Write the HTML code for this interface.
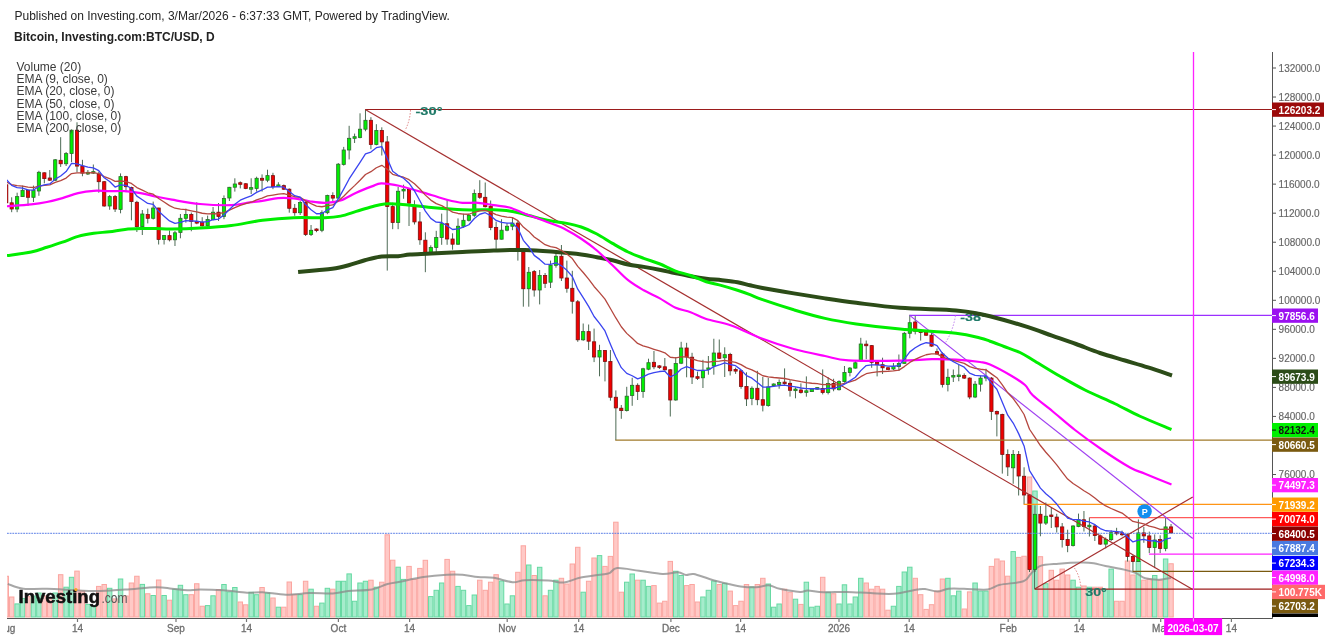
<!DOCTYPE html>
<html><head><meta charset="utf-8"><style>
html,body{margin:0;padding:0;background:#fff;}
svg{display:block;font-family:"Liberation Sans",sans-serif;will-change:transform;}
</style></head><body>
<svg width="1332" height="640" viewBox="0 0 1332 640">
<defs><clipPath id="cpx"><rect x="7" y="600" width="100" height="40"/></clipPath><clipPath id="cp"><rect x="7" y="52" width="1265" height="566"/></clipPath></defs>
<rect width="1332" height="640" fill="#fff"/>

<text x="14.5" y="20" font-size="12" fill="#262626">Published on Investing.com, 3/Mar/2026 - 6:37:33 GMT, Powered by TradingView.</text>
<text x="14" y="41" font-size="12" font-weight="bold" fill="#222">Bitcoin, Investing.com:BTC/USD, D</text>
<g clip-path="url(#cp)">
<rect x="4.02" y="576.25" width="4.44" height="40.75" fill="#ffc9c6" stroke="#fba5a0" stroke-width="1"/><rect x="9.46" y="597" width="4.44" height="20" fill="#ffc9c6" stroke="#fba5a0" stroke-width="1"/><rect x="14.91" y="603.9" width="4.44" height="13.1" fill="#a6eccc" stroke="#66d9a2" stroke-width="1"/><rect x="20.35" y="598.5" width="4.44" height="18.5" fill="#a6eccc" stroke="#66d9a2" stroke-width="1"/><rect x="25.79" y="596.6" width="4.44" height="20.4" fill="#ffc9c6" stroke="#fba5a0" stroke-width="1"/><rect x="31.24" y="596" width="4.44" height="21" fill="#a6eccc" stroke="#66d9a2" stroke-width="1"/><rect x="36.68" y="593" width="4.44" height="24" fill="#a6eccc" stroke="#66d9a2" stroke-width="1"/><rect x="42.12" y="596" width="4.44" height="21" fill="#ffc9c6" stroke="#fba5a0" stroke-width="1"/><rect x="47.57" y="598" width="4.44" height="19" fill="#ffc9c6" stroke="#fba5a0" stroke-width="1"/><rect x="53.01" y="593" width="4.44" height="24" fill="#a6eccc" stroke="#66d9a2" stroke-width="1"/><rect x="58.45" y="574.7" width="4.44" height="42.3" fill="#ffc9c6" stroke="#fba5a0" stroke-width="1"/><rect x="63.89" y="587.2" width="4.44" height="29.8" fill="#a6eccc" stroke="#66d9a2" stroke-width="1"/><rect x="69.34" y="577.3" width="4.44" height="39.7" fill="#a6eccc" stroke="#66d9a2" stroke-width="1"/><rect x="74.78" y="571.1" width="4.44" height="45.9" fill="#ffc9c6" stroke="#fba5a0" stroke-width="1"/><rect x="80.22" y="591" width="4.44" height="26" fill="#ffc9c6" stroke="#fba5a0" stroke-width="1"/><rect x="85.67" y="604.4" width="4.44" height="12.6" fill="#a6eccc" stroke="#66d9a2" stroke-width="1"/><rect x="91.11" y="606" width="4.44" height="11" fill="#a6eccc" stroke="#66d9a2" stroke-width="1"/><rect x="96.55" y="586.4" width="4.44" height="30.6" fill="#ffc9c6" stroke="#fba5a0" stroke-width="1"/><rect x="102" y="584.5" width="4.44" height="32.5" fill="#ffc9c6" stroke="#fba5a0" stroke-width="1"/><rect x="107.44" y="588.3" width="4.44" height="28.7" fill="#a6eccc" stroke="#66d9a2" stroke-width="1"/><rect x="112.88" y="598.9" width="4.44" height="18.1" fill="#ffc9c6" stroke="#fba5a0" stroke-width="1"/><rect x="118.32" y="579" width="4.44" height="38" fill="#a6eccc" stroke="#66d9a2" stroke-width="1"/><rect x="123.77" y="596" width="4.44" height="21" fill="#ffc9c6" stroke="#fba5a0" stroke-width="1"/><rect x="129.21" y="583" width="4.44" height="34" fill="#ffc9c6" stroke="#fba5a0" stroke-width="1"/><rect x="134.65" y="576.25" width="4.44" height="40.75" fill="#ffc9c6" stroke="#fba5a0" stroke-width="1"/><rect x="140.1" y="584.4" width="4.44" height="32.6" fill="#a6eccc" stroke="#66d9a2" stroke-width="1"/><rect x="145.54" y="593.75" width="4.44" height="23.25" fill="#ffc9c6" stroke="#fba5a0" stroke-width="1"/><rect x="150.98" y="595.5" width="4.44" height="21.5" fill="#a6eccc" stroke="#66d9a2" stroke-width="1"/><rect x="156.42" y="580" width="4.44" height="37" fill="#ffc9c6" stroke="#fba5a0" stroke-width="1"/><rect x="161.87" y="595.5" width="4.44" height="21.5" fill="#a6eccc" stroke="#66d9a2" stroke-width="1"/><rect x="167.31" y="600.2" width="4.44" height="16.8" fill="#ffc9c6" stroke="#fba5a0" stroke-width="1"/><rect x="172.75" y="589.2" width="4.44" height="27.8" fill="#a6eccc" stroke="#66d9a2" stroke-width="1"/><rect x="178.2" y="585.3" width="4.44" height="31.7" fill="#a6eccc" stroke="#66d9a2" stroke-width="1"/><rect x="183.64" y="594.7" width="4.44" height="22.3" fill="#a6eccc" stroke="#66d9a2" stroke-width="1"/><rect x="189.08" y="594.7" width="4.44" height="22.3" fill="#ffc9c6" stroke="#fba5a0" stroke-width="1"/><rect x="194.53" y="583.75" width="4.44" height="33.25" fill="#ffc9c6" stroke="#fba5a0" stroke-width="1"/><rect x="199.97" y="606.25" width="4.44" height="10.75" fill="#ffc9c6" stroke="#fba5a0" stroke-width="1"/><rect x="205.41" y="605.6" width="4.44" height="11.4" fill="#a6eccc" stroke="#66d9a2" stroke-width="1"/><rect x="210.85" y="595.8" width="4.44" height="21.2" fill="#a6eccc" stroke="#66d9a2" stroke-width="1"/><rect x="216.3" y="589.5" width="4.44" height="27.5" fill="#ffc9c6" stroke="#fba5a0" stroke-width="1"/><rect x="221.74" y="584.5" width="4.44" height="32.5" fill="#a6eccc" stroke="#66d9a2" stroke-width="1"/><rect x="227.18" y="591.9" width="4.44" height="25.1" fill="#a6eccc" stroke="#66d9a2" stroke-width="1"/><rect x="232.63" y="587.5" width="4.44" height="29.5" fill="#a6eccc" stroke="#66d9a2" stroke-width="1"/><rect x="238.07" y="602" width="4.44" height="15" fill="#ffc9c6" stroke="#fba5a0" stroke-width="1"/><rect x="243.51" y="604.8" width="4.44" height="12.2" fill="#ffc9c6" stroke="#fba5a0" stroke-width="1"/><rect x="248.96" y="592.3" width="4.44" height="24.7" fill="#a6eccc" stroke="#66d9a2" stroke-width="1"/><rect x="254.4" y="594.7" width="4.44" height="22.3" fill="#a6eccc" stroke="#66d9a2" stroke-width="1"/><rect x="259.84" y="587.5" width="4.44" height="29.5" fill="#ffc9c6" stroke="#fba5a0" stroke-width="1"/><rect x="265.28" y="593" width="4.44" height="24" fill="#a6eccc" stroke="#66d9a2" stroke-width="1"/><rect x="270.73" y="598" width="4.44" height="19" fill="#ffc9c6" stroke="#fba5a0" stroke-width="1"/><rect x="276.17" y="607.2" width="4.44" height="9.8" fill="#a6eccc" stroke="#66d9a2" stroke-width="1"/><rect x="281.61" y="607.2" width="4.44" height="9.8" fill="#ffc9c6" stroke="#fba5a0" stroke-width="1"/><rect x="287.06" y="582" width="4.44" height="35" fill="#ffc9c6" stroke="#fba5a0" stroke-width="1"/><rect x="292.5" y="594.7" width="4.44" height="22.3" fill="#ffc9c6" stroke="#fba5a0" stroke-width="1"/><rect x="297.94" y="594.7" width="4.44" height="22.3" fill="#a6eccc" stroke="#66d9a2" stroke-width="1"/><rect x="303.39" y="581.25" width="4.44" height="35.75" fill="#ffc9c6" stroke="#fba5a0" stroke-width="1"/><rect x="308.83" y="589.2" width="4.44" height="27.8" fill="#a6eccc" stroke="#66d9a2" stroke-width="1"/><rect x="314.27" y="606.25" width="4.44" height="10.75" fill="#ffc9c6" stroke="#fba5a0" stroke-width="1"/><rect x="319.71" y="603.1" width="4.44" height="13.9" fill="#a6eccc" stroke="#66d9a2" stroke-width="1"/><rect x="325.16" y="588.3" width="4.44" height="28.7" fill="#a6eccc" stroke="#66d9a2" stroke-width="1"/><rect x="330.6" y="589.2" width="4.44" height="27.8" fill="#ffc9c6" stroke="#fba5a0" stroke-width="1"/><rect x="336.04" y="581.25" width="4.44" height="35.75" fill="#a6eccc" stroke="#66d9a2" stroke-width="1"/><rect x="341.49" y="581.25" width="4.44" height="35.75" fill="#a6eccc" stroke="#66d9a2" stroke-width="1"/><rect x="346.93" y="573.9" width="4.44" height="43.1" fill="#a6eccc" stroke="#66d9a2" stroke-width="1"/><rect x="352.37" y="601.25" width="4.44" height="15.75" fill="#a6eccc" stroke="#66d9a2" stroke-width="1"/><rect x="357.82" y="583" width="4.44" height="34" fill="#a6eccc" stroke="#66d9a2" stroke-width="1"/><rect x="363.26" y="581.25" width="4.44" height="35.75" fill="#a6eccc" stroke="#66d9a2" stroke-width="1"/><rect x="368.7" y="580.2" width="4.44" height="36.8" fill="#ffc9c6" stroke="#fba5a0" stroke-width="1"/><rect x="374.14" y="587.2" width="4.44" height="29.8" fill="#a6eccc" stroke="#66d9a2" stroke-width="1"/><rect x="379.59" y="582.2" width="4.44" height="34.8" fill="#ffc9c6" stroke="#fba5a0" stroke-width="1"/><rect x="385.03" y="534.8" width="4.44" height="82.2" fill="#ffc9c6" stroke="#fba5a0" stroke-width="1"/><rect x="390.47" y="560.2" width="4.44" height="56.8" fill="#ffc9c6" stroke="#fba5a0" stroke-width="1"/><rect x="395.92" y="567.2" width="4.44" height="49.8" fill="#a6eccc" stroke="#66d9a2" stroke-width="1"/><rect x="401.36" y="579.4" width="4.44" height="37.6" fill="#a6eccc" stroke="#66d9a2" stroke-width="1"/><rect x="406.8" y="566.4" width="4.44" height="50.6" fill="#ffc9c6" stroke="#fba5a0" stroke-width="1"/><rect x="412.25" y="579.4" width="4.44" height="37.6" fill="#ffc9c6" stroke="#fba5a0" stroke-width="1"/><rect x="417.69" y="568.4" width="4.44" height="48.6" fill="#ffc9c6" stroke="#fba5a0" stroke-width="1"/><rect x="423.13" y="560.3" width="4.44" height="56.7" fill="#ffc9c6" stroke="#fba5a0" stroke-width="1"/><rect x="428.57" y="596.6" width="4.44" height="20.4" fill="#a6eccc" stroke="#66d9a2" stroke-width="1"/><rect x="434.02" y="590.3" width="4.44" height="26.7" fill="#a6eccc" stroke="#66d9a2" stroke-width="1"/><rect x="439.46" y="583" width="4.44" height="34" fill="#a6eccc" stroke="#66d9a2" stroke-width="1"/><rect x="444.9" y="559.4" width="4.44" height="57.6" fill="#ffc9c6" stroke="#fba5a0" stroke-width="1"/><rect x="450.35" y="571.25" width="4.44" height="45.75" fill="#ffc9c6" stroke="#fba5a0" stroke-width="1"/><rect x="455.79" y="586.4" width="4.44" height="30.6" fill="#a6eccc" stroke="#66d9a2" stroke-width="1"/><rect x="461.23" y="590.3" width="4.44" height="26.7" fill="#a6eccc" stroke="#66d9a2" stroke-width="1"/><rect x="466.68" y="605.6" width="4.44" height="11.4" fill="#a6eccc" stroke="#66d9a2" stroke-width="1"/><rect x="472.12" y="595" width="4.44" height="22" fill="#a6eccc" stroke="#66d9a2" stroke-width="1"/><rect x="477.56" y="580.2" width="4.44" height="36.8" fill="#ffc9c6" stroke="#fba5a0" stroke-width="1"/><rect x="483" y="590.3" width="4.44" height="26.7" fill="#ffc9c6" stroke="#fba5a0" stroke-width="1"/><rect x="488.45" y="582.2" width="4.44" height="34.8" fill="#ffc9c6" stroke="#fba5a0" stroke-width="1"/><rect x="493.89" y="574.7" width="4.44" height="42.3" fill="#ffc9c6" stroke="#fba5a0" stroke-width="1"/><rect x="499.33" y="581" width="4.44" height="36" fill="#a6eccc" stroke="#66d9a2" stroke-width="1"/><rect x="504.78" y="604" width="4.44" height="13" fill="#a6eccc" stroke="#66d9a2" stroke-width="1"/><rect x="510.22" y="595.8" width="4.44" height="21.2" fill="#a6eccc" stroke="#66d9a2" stroke-width="1"/><rect x="515.66" y="572.3" width="4.44" height="44.7" fill="#ffc9c6" stroke="#fba5a0" stroke-width="1"/><rect x="521.11" y="545.8" width="4.44" height="71.2" fill="#ffc9c6" stroke="#fba5a0" stroke-width="1"/><rect x="526.55" y="565" width="4.44" height="52" fill="#a6eccc" stroke="#66d9a2" stroke-width="1"/><rect x="531.99" y="575.5" width="4.44" height="41.5" fill="#ffc9c6" stroke="#fba5a0" stroke-width="1"/><rect x="537.43" y="567.3" width="4.44" height="49.7" fill="#a6eccc" stroke="#66d9a2" stroke-width="1"/><rect x="542.88" y="595.8" width="4.44" height="21.2" fill="#ffc9c6" stroke="#fba5a0" stroke-width="1"/><rect x="548.32" y="590.3" width="4.44" height="26.7" fill="#a6eccc" stroke="#66d9a2" stroke-width="1"/><rect x="553.76" y="580.2" width="4.44" height="36.8" fill="#a6eccc" stroke="#66d9a2" stroke-width="1"/><rect x="559.21" y="578.3" width="4.44" height="38.7" fill="#ffc9c6" stroke="#fba5a0" stroke-width="1"/><rect x="564.65" y="584" width="4.44" height="33" fill="#ffc9c6" stroke="#fba5a0" stroke-width="1"/><rect x="570.09" y="564" width="4.44" height="53" fill="#ffc9c6" stroke="#fba5a0" stroke-width="1"/><rect x="575.54" y="547.3" width="4.44" height="69.7" fill="#ffc9c6" stroke="#fba5a0" stroke-width="1"/><rect x="580.98" y="592.2" width="4.44" height="24.8" fill="#a6eccc" stroke="#66d9a2" stroke-width="1"/><rect x="586.42" y="581.25" width="4.44" height="35.75" fill="#ffc9c6" stroke="#fba5a0" stroke-width="1"/><rect x="591.86" y="558" width="4.44" height="59" fill="#ffc9c6" stroke="#fba5a0" stroke-width="1"/><rect x="597.31" y="555.6" width="4.44" height="61.4" fill="#a6eccc" stroke="#66d9a2" stroke-width="1"/><rect x="602.75" y="566.4" width="4.44" height="50.6" fill="#ffc9c6" stroke="#fba5a0" stroke-width="1"/><rect x="608.19" y="556.4" width="4.44" height="60.6" fill="#ffc9c6" stroke="#fba5a0" stroke-width="1"/><rect x="613.64" y="522.2" width="4.44" height="94.8" fill="#ffc9c6" stroke="#fba5a0" stroke-width="1"/><rect x="619.08" y="592.2" width="4.44" height="24.8" fill="#ffc9c6" stroke="#fba5a0" stroke-width="1"/><rect x="624.52" y="582.2" width="4.44" height="34.8" fill="#a6eccc" stroke="#66d9a2" stroke-width="1"/><rect x="629.97" y="574" width="4.44" height="43" fill="#a6eccc" stroke="#66d9a2" stroke-width="1"/><rect x="635.41" y="580.2" width="4.44" height="36.8" fill="#ffc9c6" stroke="#fba5a0" stroke-width="1"/><rect x="640.85" y="580.2" width="4.44" height="36.8" fill="#a6eccc" stroke="#66d9a2" stroke-width="1"/><rect x="646.29" y="586.4" width="4.44" height="30.6" fill="#a6eccc" stroke="#66d9a2" stroke-width="1"/><rect x="651.74" y="585.6" width="4.44" height="31.4" fill="#ffc9c6" stroke="#fba5a0" stroke-width="1"/><rect x="657.18" y="603.1" width="4.44" height="13.9" fill="#ffc9c6" stroke="#fba5a0" stroke-width="1"/><rect x="662.62" y="601.25" width="4.44" height="15.75" fill="#ffc9c6" stroke="#fba5a0" stroke-width="1"/><rect x="668.07" y="561.4" width="4.44" height="55.6" fill="#ffc9c6" stroke="#fba5a0" stroke-width="1"/><rect x="673.51" y="571.25" width="4.44" height="45.75" fill="#a6eccc" stroke="#66d9a2" stroke-width="1"/><rect x="678.95" y="575.5" width="4.44" height="41.5" fill="#a6eccc" stroke="#66d9a2" stroke-width="1"/><rect x="684.4" y="585.6" width="4.44" height="31.4" fill="#ffc9c6" stroke="#fba5a0" stroke-width="1"/><rect x="689.84" y="584.5" width="4.44" height="32.5" fill="#ffc9c6" stroke="#fba5a0" stroke-width="1"/><rect x="695.28" y="602" width="4.44" height="15" fill="#ffc9c6" stroke="#fba5a0" stroke-width="1"/><rect x="700.72" y="597" width="4.44" height="20" fill="#a6eccc" stroke="#66d9a2" stroke-width="1"/><rect x="706.17" y="590.3" width="4.44" height="26.7" fill="#a6eccc" stroke="#66d9a2" stroke-width="1"/><rect x="711.61" y="581" width="4.44" height="36" fill="#a6eccc" stroke="#66d9a2" stroke-width="1"/><rect x="717.05" y="584.5" width="4.44" height="32.5" fill="#ffc9c6" stroke="#fba5a0" stroke-width="1"/><rect x="722.5" y="583.3" width="4.44" height="33.7" fill="#a6eccc" stroke="#66d9a2" stroke-width="1"/><rect x="727.94" y="591.1" width="4.44" height="25.9" fill="#ffc9c6" stroke="#fba5a0" stroke-width="1"/><rect x="733.38" y="605.6" width="4.44" height="11.4" fill="#ffc9c6" stroke="#fba5a0" stroke-width="1"/><rect x="738.83" y="601.25" width="4.44" height="15.75" fill="#ffc9c6" stroke="#fba5a0" stroke-width="1"/><rect x="744.27" y="584.5" width="4.44" height="32.5" fill="#ffc9c6" stroke="#fba5a0" stroke-width="1"/><rect x="749.71" y="586.9" width="4.44" height="30.1" fill="#a6eccc" stroke="#66d9a2" stroke-width="1"/><rect x="755.15" y="584.5" width="4.44" height="32.5" fill="#ffc9c6" stroke="#fba5a0" stroke-width="1"/><rect x="760.6" y="578.3" width="4.44" height="38.7" fill="#ffc9c6" stroke="#fba5a0" stroke-width="1"/><rect x="766.04" y="584" width="4.44" height="33" fill="#a6eccc" stroke="#66d9a2" stroke-width="1"/><rect x="771.48" y="607.2" width="4.44" height="9.8" fill="#a6eccc" stroke="#66d9a2" stroke-width="1"/><rect x="776.93" y="604" width="4.44" height="13" fill="#a6eccc" stroke="#66d9a2" stroke-width="1"/><rect x="782.37" y="589.2" width="4.44" height="27.8" fill="#ffc9c6" stroke="#fba5a0" stroke-width="1"/><rect x="787.81" y="592.2" width="4.44" height="24.8" fill="#ffc9c6" stroke="#fba5a0" stroke-width="1"/><rect x="793.26" y="599.2" width="4.44" height="17.8" fill="#a6eccc" stroke="#66d9a2" stroke-width="1"/><rect x="798.7" y="604.4" width="4.44" height="12.6" fill="#ffc9c6" stroke="#fba5a0" stroke-width="1"/><rect x="804.14" y="582.2" width="4.44" height="34.8" fill="#a6eccc" stroke="#66d9a2" stroke-width="1"/><rect x="809.58" y="607.2" width="4.44" height="9.8" fill="#a6eccc" stroke="#66d9a2" stroke-width="1"/><rect x="815.03" y="606.25" width="4.44" height="10.75" fill="#a6eccc" stroke="#66d9a2" stroke-width="1"/><rect x="820.47" y="577.3" width="4.44" height="39.7" fill="#ffc9c6" stroke="#fba5a0" stroke-width="1"/><rect x="825.91" y="592.2" width="4.44" height="24.8" fill="#a6eccc" stroke="#66d9a2" stroke-width="1"/><rect x="831.36" y="593.75" width="4.44" height="23.25" fill="#ffc9c6" stroke="#fba5a0" stroke-width="1"/><rect x="836.8" y="604" width="4.44" height="13" fill="#a6eccc" stroke="#66d9a2" stroke-width="1"/><rect x="842.24" y="584.8" width="4.44" height="32.2" fill="#a6eccc" stroke="#66d9a2" stroke-width="1"/><rect x="847.69" y="604" width="4.44" height="13" fill="#a6eccc" stroke="#66d9a2" stroke-width="1"/><rect x="853.13" y="597" width="4.44" height="20" fill="#a6eccc" stroke="#66d9a2" stroke-width="1"/><rect x="858.57" y="578.3" width="4.44" height="38.7" fill="#a6eccc" stroke="#66d9a2" stroke-width="1"/><rect x="864.01" y="583" width="4.44" height="34" fill="#ffc9c6" stroke="#fba5a0" stroke-width="1"/><rect x="869.46" y="589.2" width="4.44" height="27.8" fill="#ffc9c6" stroke="#fba5a0" stroke-width="1"/><rect x="874.9" y="586.4" width="4.44" height="30.6" fill="#ffc9c6" stroke="#fba5a0" stroke-width="1"/><rect x="880.34" y="589.2" width="4.44" height="27.8" fill="#ffc9c6" stroke="#fba5a0" stroke-width="1"/><rect x="885.79" y="610.2" width="4.44" height="6.8" fill="#ffc9c6" stroke="#fba5a0" stroke-width="1"/><rect x="891.23" y="606.25" width="4.44" height="10.75" fill="#a6eccc" stroke="#66d9a2" stroke-width="1"/><rect x="896.67" y="586.4" width="4.44" height="30.6" fill="#a6eccc" stroke="#66d9a2" stroke-width="1"/><rect x="902.12" y="572" width="4.44" height="45" fill="#a6eccc" stroke="#66d9a2" stroke-width="1"/><rect x="907.56" y="567.2" width="4.44" height="49.8" fill="#a6eccc" stroke="#66d9a2" stroke-width="1"/><rect x="913" y="578.3" width="4.44" height="38.7" fill="#ffc9c6" stroke="#fba5a0" stroke-width="1"/><rect x="918.44" y="594.7" width="4.44" height="22.3" fill="#ffc9c6" stroke="#fba5a0" stroke-width="1"/><rect x="923.89" y="609.4" width="4.44" height="7.6" fill="#ffc9c6" stroke="#fba5a0" stroke-width="1"/><rect x="929.33" y="604.7" width="4.44" height="12.3" fill="#ffc9c6" stroke="#fba5a0" stroke-width="1"/><rect x="934.77" y="591.1" width="4.44" height="25.9" fill="#ffc9c6" stroke="#fba5a0" stroke-width="1"/><rect x="940.22" y="579" width="4.44" height="38" fill="#ffc9c6" stroke="#fba5a0" stroke-width="1"/><rect x="945.66" y="578.3" width="4.44" height="38.7" fill="#a6eccc" stroke="#66d9a2" stroke-width="1"/><rect x="951.1" y="595.8" width="4.44" height="21.2" fill="#a6eccc" stroke="#66d9a2" stroke-width="1"/><rect x="956.55" y="591.1" width="4.44" height="25.9" fill="#a6eccc" stroke="#66d9a2" stroke-width="1"/><rect x="961.99" y="609" width="4.44" height="8" fill="#ffc9c6" stroke="#fba5a0" stroke-width="1"/><rect x="967.43" y="591.9" width="4.44" height="25.1" fill="#ffc9c6" stroke="#fba5a0" stroke-width="1"/><rect x="972.87" y="583" width="4.44" height="34" fill="#a6eccc" stroke="#66d9a2" stroke-width="1"/><rect x="978.32" y="591.1" width="4.44" height="25.9" fill="#a6eccc" stroke="#66d9a2" stroke-width="1"/><rect x="983.76" y="591.1" width="4.44" height="25.9" fill="#a6eccc" stroke="#66d9a2" stroke-width="1"/><rect x="989.2" y="566.4" width="4.44" height="50.6" fill="#ffc9c6" stroke="#fba5a0" stroke-width="1"/><rect x="994.65" y="559" width="4.44" height="58" fill="#ffc9c6" stroke="#fba5a0" stroke-width="1"/><rect x="1000.09" y="561" width="4.44" height="56" fill="#ffc9c6" stroke="#fba5a0" stroke-width="1"/><rect x="1005.53" y="576.2" width="4.44" height="40.8" fill="#ffc9c6" stroke="#fba5a0" stroke-width="1"/><rect x="1010.98" y="551.6" width="4.44" height="65.4" fill="#a6eccc" stroke="#66d9a2" stroke-width="1"/><rect x="1016.42" y="557.4" width="4.44" height="59.6" fill="#ffc9c6" stroke="#fba5a0" stroke-width="1"/><rect x="1021.86" y="556.25" width="4.44" height="60.75" fill="#ffc9c6" stroke="#fba5a0" stroke-width="1"/><rect x="1027.31" y="477" width="4.44" height="140" fill="#ffc9c6" stroke="#fba5a0" stroke-width="1"/><rect x="1032.75" y="491" width="4.44" height="126" fill="#a6eccc" stroke="#66d9a2" stroke-width="1"/><rect x="1038.19" y="556.7" width="4.44" height="60.3" fill="#ffc9c6" stroke="#fba5a0" stroke-width="1"/><rect x="1043.63" y="583.7" width="4.44" height="33.3" fill="#a6eccc" stroke="#66d9a2" stroke-width="1"/><rect x="1049.08" y="570.3" width="4.44" height="46.7" fill="#ffc9c6" stroke="#fba5a0" stroke-width="1"/><rect x="1054.52" y="580.2" width="4.44" height="36.8" fill="#ffc9c6" stroke="#fba5a0" stroke-width="1"/><rect x="1059.96" y="569.1" width="4.44" height="47.9" fill="#ffc9c6" stroke="#fba5a0" stroke-width="1"/><rect x="1065.41" y="575" width="4.44" height="42" fill="#ffc9c6" stroke="#fba5a0" stroke-width="1"/><rect x="1070.85" y="580.2" width="4.44" height="36.8" fill="#a6eccc" stroke="#66d9a2" stroke-width="1"/><rect x="1076.29" y="587.2" width="4.44" height="29.8" fill="#a6eccc" stroke="#66d9a2" stroke-width="1"/><rect x="1081.73" y="586" width="4.44" height="31" fill="#ffc9c6" stroke="#fba5a0" stroke-width="1"/><rect x="1087.18" y="587.2" width="4.44" height="29.8" fill="#a6eccc" stroke="#66d9a2" stroke-width="1"/><rect x="1092.62" y="587.2" width="4.44" height="29.8" fill="#ffc9c6" stroke="#fba5a0" stroke-width="1"/><rect x="1098.06" y="587.2" width="4.44" height="29.8" fill="#ffc9c6" stroke="#fba5a0" stroke-width="1"/><rect x="1103.51" y="589.5" width="4.44" height="27.5" fill="#a6eccc" stroke="#66d9a2" stroke-width="1"/><rect x="1108.95" y="569.1" width="4.44" height="47.9" fill="#a6eccc" stroke="#66d9a2" stroke-width="1"/><rect x="1114.39" y="601.25" width="4.44" height="15.75" fill="#ffc9c6" stroke="#fba5a0" stroke-width="1"/><rect x="1119.84" y="601.25" width="4.44" height="15.75" fill="#ffc9c6" stroke="#fba5a0" stroke-width="1"/><rect x="1125.28" y="561" width="4.44" height="56" fill="#ffc9c6" stroke="#fba5a0" stroke-width="1"/><rect x="1130.72" y="575" width="4.44" height="42" fill="#ffc9c6" stroke="#fba5a0" stroke-width="1"/><rect x="1136.16" y="561.4" width="4.44" height="55.6" fill="#a6eccc" stroke="#66d9a2" stroke-width="1"/><rect x="1141.61" y="580.2" width="4.44" height="36.8" fill="#ffc9c6" stroke="#fba5a0" stroke-width="1"/><rect x="1147.05" y="579" width="4.44" height="38" fill="#ffc9c6" stroke="#fba5a0" stroke-width="1"/><rect x="1152.49" y="575.5" width="4.44" height="41.5" fill="#a6eccc" stroke="#66d9a2" stroke-width="1"/><rect x="1157.94" y="580.2" width="4.44" height="36.8" fill="#ffc9c6" stroke="#fba5a0" stroke-width="1"/><rect x="1163.38" y="559" width="4.44" height="58" fill="#a6eccc" stroke="#66d9a2" stroke-width="1"/><rect x="1168.82" y="563.75" width="4.44" height="53.25" fill="#ffc9c6" stroke="#fba5a0" stroke-width="1"/>
<path d="M7.8,584 C10.4,584.79 16.87,587.96 23.4,588.75 C29.93,589.54 35.27,588.38 47,588.75 C58.73,589.12 80.75,590.88 93.75,591 C106.75,591.12 114.62,590.13 125,589.5 C135.38,588.87 148.17,587.33 156,587.2 C163.83,587.08 166.75,588.23 172,588.75 C177.25,589.27 182.83,590.17 187.5,590.3 C192.17,590.42 194.02,589.5 200,589.5 C205.98,589.5 215.57,589.77 223.4,590.3 C231.23,590.83 240.48,592.38 247,592.7 C253.52,593.02 256,591.87 262.5,592.2 C269,592.53 278.18,594.55 286,594.7 C293.82,594.85 301.6,593.32 309.4,593.1 C317.2,592.88 326.3,593.73 332.8,593.4 C339.3,593.07 341.88,591.75 348.4,591.1 C354.92,590.45 365.38,590.68 371.9,589.5 C378.42,588.32 382.82,585.3 387.5,584 C392.18,582.7 394.02,582.87 400,581.7 C405.98,580.53 415.58,578.17 423.4,577 C431.22,575.83 440.38,575.08 446.9,574.7 C453.42,574.32 457.32,574.32 462.5,574.7 C467.68,575.08 472.79,576.48 478,577 C483.21,577.52 488,576.93 493.75,577.8 C499.5,578.67 507.29,581.8 512.5,582.2 C517.71,582.6 519.02,580.47 525,580.2 C530.98,579.93 541.9,580.22 548.4,580.6 C554.9,580.98 558.78,582.97 564,582.5 C569.22,582.03 573.7,579.1 579.7,577.8 C585.7,576.5 595.05,575.48 600,574.7 C604.95,573.92 606.53,574.2 609.4,573.1 C612.27,572 612.27,568.48 617.2,568.1 C622.13,567.72 631.45,569.82 639,570.8 C646.55,571.78 656,573.75 662.5,574 C669,574.25 674.08,572.13 678,572.3 C681.92,572.47 683.38,574.72 686,575 C688.62,575.28 689.85,573.33 693.75,574 C697.65,574.67 704.19,577.45 709.4,579 C714.61,580.55 719.8,582.07 725,583.3 C730.2,584.53 735.39,585.75 740.6,586.4 C745.81,587.05 751.56,587.38 756.25,587.2 C760.94,587.02 764.84,585.04 768.75,585.3 C772.66,585.56 774.49,587.65 779.7,588.75 C784.91,589.85 795.32,591.59 800,591.9 C804.68,592.21 803.9,590.55 807.8,590.6 C811.7,590.65 816.87,591.98 823.4,592.2 C829.93,592.42 839.18,591.75 847,591.9 C854.82,592.05 862.51,592.79 870.3,593.1 C878.09,593.41 885.93,594.35 893.75,593.75 C901.57,593.15 911.99,590.29 917.2,589.5 C922.41,588.71 921.62,588.65 925,589 C928.38,589.35 933.6,591.64 937.5,591.6 C941.4,591.56 943.98,589.23 948.4,588.75 C952.82,588.27 957.48,588.62 964,588.75 C970.52,588.88 981.5,590.16 987.5,589.5 C993.5,588.84 994.02,586.17 1000,584.8 C1005.98,583.43 1018.32,583.05 1023.4,581.3 C1028.48,579.55 1027.77,576.83 1030.5,574.3 C1033.23,571.77 1035.12,567.86 1039.8,566.1 C1044.48,564.34 1051.57,564.33 1058.6,563.75 C1065.63,563.17 1076.14,562.68 1082,562.6 C1087.86,562.52 1089.83,562.72 1093.75,563.3 C1097.67,563.88 1100.42,565.05 1105.5,566.1 C1110.58,567.15 1119.12,568.43 1124.2,569.6 C1129.28,570.77 1132.48,571.65 1136,573.1 C1139.52,574.55 1141.4,577.2 1145.3,578.3 C1149.2,579.4 1155.12,579.78 1159.4,579.7 C1163.68,579.62 1169.07,578.12 1171,577.8" fill="none" stroke="#8a8a8a" stroke-width="2" stroke-opacity="0.75"/>
<text x="18.5" y="603" font-size="18" font-weight="bold" fill="#111" stroke="#111" stroke-width="0.5" textLength="81.5" lengthAdjust="spacingAndGlyphs">Investing</text>
<circle cx="75.9" cy="589.6" r="1.6" fill="#f5a623"/><text x="101.5" y="603.4" font-size="15" fill="#555" textLength="26" lengthAdjust="spacingAndGlyphs">.com</text>
<line x1="6.24" y1="184" x2="6.24" y2="203" stroke="#4d6b55" stroke-width="1"/><rect x="4.64" y="184.8" width="3.2" height="18" fill="#f00000" stroke="#7a1010" stroke-width="0.8"/><line x1="11.68" y1="197.3" x2="11.68" y2="212.2" stroke="#4d6b55" stroke-width="1"/><rect x="10.08" y="202.8" width="3.2" height="6.2" fill="#f00000" stroke="#7a1010" stroke-width="0.8"/><line x1="17.13" y1="192.7" x2="17.13" y2="212.2" stroke="#4d6b55" stroke-width="1"/><rect x="15.53" y="196.6" width="3.2" height="12.4" fill="#00f000" stroke="#2b6b2b" stroke-width="0.8"/><line x1="22.57" y1="185.6" x2="22.57" y2="197" stroke="#4d6b55" stroke-width="1"/><rect x="20.97" y="190.3" width="3.2" height="6.3" fill="#00f000" stroke="#2b6b2b" stroke-width="0.8"/><line x1="28.01" y1="189.5" x2="28.01" y2="206" stroke="#4d6b55" stroke-width="1"/><rect x="26.41" y="190.3" width="3.2" height="7" fill="#f00000" stroke="#7a1010" stroke-width="0.8"/><line x1="33.46" y1="185.6" x2="33.46" y2="202" stroke="#4d6b55" stroke-width="1"/><rect x="31.86" y="190.3" width="3.2" height="7" fill="#00f000" stroke="#2b6b2b" stroke-width="0.8"/><line x1="38.9" y1="170.8" x2="38.9" y2="195.8" stroke="#4d6b55" stroke-width="1"/><rect x="37.3" y="172.3" width="3.2" height="18.7" fill="#00f000" stroke="#2b6b2b" stroke-width="0.8"/><line x1="44.34" y1="172.3" x2="44.34" y2="183.3" stroke="#4d6b55" stroke-width="1"/><rect x="42.74" y="172.8" width="3.2" height="5.8" fill="#f00000" stroke="#7a1010" stroke-width="0.8"/><line x1="49.79" y1="170" x2="49.79" y2="181" stroke="#4d6b55" stroke-width="1"/><rect x="48.19" y="178" width="3.2" height="2.2" fill="#f00000" stroke="#7a1010" stroke-width="0.8"/><line x1="55.23" y1="159" x2="55.23" y2="181" stroke="#4d6b55" stroke-width="1"/><rect x="53.63" y="159.8" width="3.2" height="20.4" fill="#00f000" stroke="#2b6b2b" stroke-width="0.8"/><line x1="60.67" y1="137.2" x2="60.67" y2="166.9" stroke="#4d6b55" stroke-width="1"/><rect x="59.07" y="160.3" width="3.2" height="3.45" fill="#f00000" stroke="#7a1010" stroke-width="0.8"/><line x1="66.11" y1="152" x2="66.11" y2="166" stroke="#4d6b55" stroke-width="1"/><rect x="64.51" y="153.6" width="3.2" height="10.15" fill="#00f000" stroke="#2b6b2b" stroke-width="0.8"/><line x1="71.56" y1="129.4" x2="71.56" y2="162.2" stroke="#4d6b55" stroke-width="1"/><rect x="69.96" y="130.2" width="3.2" height="23.4" fill="#00f000" stroke="#2b6b2b" stroke-width="0.8"/><line x1="77" y1="122.3" x2="77" y2="172.3" stroke="#4d6b55" stroke-width="1"/><rect x="75.4" y="130.2" width="3.2" height="35.9" fill="#f00000" stroke="#7a1010" stroke-width="0.8"/><line x1="82.44" y1="159.8" x2="82.44" y2="176.25" stroke="#4d6b55" stroke-width="1"/><rect x="80.84" y="166.1" width="3.2" height="7" fill="#f00000" stroke="#7a1010" stroke-width="0.8"/><line x1="87.89" y1="170" x2="87.89" y2="175" stroke="#4d6b55" stroke-width="1"/><rect x="86.29" y="172.3" width="3.2" height="1.7" fill="#00f000" stroke="#2b6b2b" stroke-width="0.8"/><line x1="93.33" y1="164.5" x2="93.33" y2="174" stroke="#4d6b55" stroke-width="1"/><rect x="91.73" y="171.6" width="3.2" height="1.5" fill="#00f000" stroke="#2b6b2b" stroke-width="0.8"/><line x1="98.77" y1="171.6" x2="98.77" y2="192.7" stroke="#4d6b55" stroke-width="1"/><rect x="97.17" y="174" width="3.2" height="7.7" fill="#f00000" stroke="#7a1010" stroke-width="0.8"/><line x1="104.22" y1="181" x2="104.22" y2="206.7" stroke="#4d6b55" stroke-width="1"/><rect x="102.62" y="181.7" width="3.2" height="24.3" fill="#f00000" stroke="#7a1010" stroke-width="0.8"/><line x1="109.66" y1="195" x2="109.66" y2="209.8" stroke="#4d6b55" stroke-width="1"/><rect x="108.06" y="196.6" width="3.2" height="9.4" fill="#00f000" stroke="#2b6b2b" stroke-width="0.8"/><line x1="115.1" y1="195" x2="115.1" y2="212" stroke="#4d6b55" stroke-width="1"/><rect x="113.5" y="196.6" width="3.2" height="12.4" fill="#f00000" stroke="#7a1010" stroke-width="0.8"/><line x1="120.54" y1="173.4" x2="120.54" y2="213.3" stroke="#4d6b55" stroke-width="1"/><rect x="118.94" y="176.6" width="3.2" height="32.8" fill="#00f000" stroke="#2b6b2b" stroke-width="0.8"/><line x1="125.99" y1="175.8" x2="125.99" y2="192.2" stroke="#4d6b55" stroke-width="1"/><rect x="124.39" y="176.6" width="3.2" height="10.1" fill="#f00000" stroke="#7a1010" stroke-width="0.8"/><line x1="131.43" y1="186.7" x2="131.43" y2="220.3" stroke="#4d6b55" stroke-width="1"/><rect x="129.83" y="187.5" width="3.2" height="14.1" fill="#f00000" stroke="#7a1010" stroke-width="0.8"/><line x1="136.87" y1="200.8" x2="136.87" y2="232" stroke="#4d6b55" stroke-width="1"/><rect x="135.27" y="202.3" width="3.2" height="24.3" fill="#f00000" stroke="#7a1010" stroke-width="0.8"/><line x1="142.32" y1="210" x2="142.32" y2="235" stroke="#4d6b55" stroke-width="1"/><rect x="140.72" y="214" width="3.2" height="12.6" fill="#00f000" stroke="#2b6b2b" stroke-width="0.8"/><line x1="147.76" y1="208.6" x2="147.76" y2="223.4" stroke="#4d6b55" stroke-width="1"/><rect x="146.16" y="214.4" width="3.2" height="3.9" fill="#f00000" stroke="#7a1010" stroke-width="0.8"/><line x1="153.2" y1="201.6" x2="153.2" y2="219.5" stroke="#4d6b55" stroke-width="1"/><rect x="151.6" y="208" width="3.2" height="10.3" fill="#00f000" stroke="#2b6b2b" stroke-width="0.8"/><line x1="158.64" y1="207.8" x2="158.64" y2="244.5" stroke="#4d6b55" stroke-width="1"/><rect x="157.04" y="208" width="3.2" height="31.4" fill="#f00000" stroke="#7a1010" stroke-width="0.8"/><line x1="164.09" y1="235" x2="164.09" y2="244.5" stroke="#4d6b55" stroke-width="1"/><rect x="162.49" y="235.6" width="3.2" height="3.8" fill="#00f000" stroke="#2b6b2b" stroke-width="0.8"/><line x1="169.53" y1="230.5" x2="169.53" y2="241.4" stroke="#4d6b55" stroke-width="1"/><rect x="167.93" y="235.6" width="3.2" height="4.2" fill="#f00000" stroke="#7a1010" stroke-width="0.8"/><line x1="174.97" y1="231" x2="174.97" y2="246" stroke="#4d6b55" stroke-width="1"/><rect x="173.37" y="232.8" width="3.2" height="7" fill="#00f000" stroke="#2b6b2b" stroke-width="0.8"/><line x1="180.42" y1="214" x2="180.42" y2="238.3" stroke="#4d6b55" stroke-width="1"/><rect x="178.82" y="218.3" width="3.2" height="14.2" fill="#00f000" stroke="#2b6b2b" stroke-width="0.8"/><line x1="185.86" y1="208.6" x2="185.86" y2="222.7" stroke="#4d6b55" stroke-width="1"/><rect x="184.26" y="214.4" width="3.2" height="3.9" fill="#00f000" stroke="#2b6b2b" stroke-width="0.8"/><line x1="191.3" y1="212.5" x2="191.3" y2="231.25" stroke="#4d6b55" stroke-width="1"/><rect x="189.7" y="214.4" width="3.2" height="7" fill="#f00000" stroke="#7a1010" stroke-width="0.8"/><line x1="196.75" y1="202.3" x2="196.75" y2="224.2" stroke="#4d6b55" stroke-width="1"/><rect x="195.15" y="221.5" width="3.2" height="1.6" fill="#f00000" stroke="#7a1010" stroke-width="0.8"/><line x1="202.19" y1="217.2" x2="202.19" y2="226.6" stroke="#4d6b55" stroke-width="1"/><rect x="200.59" y="222.2" width="3.2" height="3.6" fill="#f00000" stroke="#7a1010" stroke-width="0.8"/><line x1="207.63" y1="215.6" x2="207.63" y2="226.6" stroke="#4d6b55" stroke-width="1"/><rect x="206.03" y="219.5" width="3.2" height="6.3" fill="#00f000" stroke="#2b6b2b" stroke-width="0.8"/><line x1="213.07" y1="207" x2="213.07" y2="220.3" stroke="#4d6b55" stroke-width="1"/><rect x="211.47" y="212.2" width="3.2" height="7.3" fill="#00f000" stroke="#2b6b2b" stroke-width="0.8"/><line x1="218.52" y1="203" x2="218.52" y2="221" stroke="#4d6b55" stroke-width="1"/><rect x="216.92" y="212.2" width="3.2" height="4.2" fill="#f00000" stroke="#7a1010" stroke-width="0.8"/><line x1="223.96" y1="195.4" x2="223.96" y2="219.2" stroke="#4d6b55" stroke-width="1"/><rect x="222.36" y="198.5" width="3.2" height="18" fill="#00f000" stroke="#2b6b2b" stroke-width="0.8"/><line x1="229.4" y1="186.9" x2="229.4" y2="201" stroke="#4d6b55" stroke-width="1"/><rect x="227.8" y="187.3" width="3.2" height="10.7" fill="#00f000" stroke="#2b6b2b" stroke-width="0.8"/><line x1="234.85" y1="178.3" x2="234.85" y2="191.6" stroke="#4d6b55" stroke-width="1"/><rect x="233.25" y="184" width="3.2" height="3.2" fill="#00f000" stroke="#2b6b2b" stroke-width="0.8"/><line x1="240.29" y1="181.4" x2="240.29" y2="188.4" stroke="#4d6b55" stroke-width="1"/><rect x="238.69" y="182.72" width="3.2" height="1.6" fill="#f00000" stroke="#7a1010" stroke-width="0.8"/><line x1="245.73" y1="183" x2="245.73" y2="189.2" stroke="#4d6b55" stroke-width="1"/><rect x="244.13" y="183.75" width="3.2" height="4.65" fill="#f00000" stroke="#7a1010" stroke-width="0.8"/><line x1="251.18" y1="178.3" x2="251.18" y2="194" stroke="#4d6b55" stroke-width="1"/><rect x="249.58" y="187.6" width="3.2" height="1.6" fill="#00f000" stroke="#2b6b2b" stroke-width="0.8"/><line x1="256.62" y1="176.7" x2="256.62" y2="191.6" stroke="#4d6b55" stroke-width="1"/><rect x="255.02" y="178.3" width="3.2" height="10.1" fill="#00f000" stroke="#2b6b2b" stroke-width="0.8"/><line x1="262.06" y1="174.4" x2="262.06" y2="191.6" stroke="#4d6b55" stroke-width="1"/><rect x="260.46" y="178.3" width="3.2" height="1.9" fill="#f00000" stroke="#7a1010" stroke-width="0.8"/><line x1="267.5" y1="169.7" x2="267.5" y2="182.2" stroke="#4d6b55" stroke-width="1"/><rect x="265.9" y="175.6" width="3.2" height="4.6" fill="#00f000" stroke="#2b6b2b" stroke-width="0.8"/><line x1="272.95" y1="172.8" x2="272.95" y2="189.2" stroke="#4d6b55" stroke-width="1"/><rect x="271.35" y="175.6" width="3.2" height="11" fill="#f00000" stroke="#7a1010" stroke-width="0.8"/><line x1="278.39" y1="182.2" x2="278.39" y2="186.9" stroke="#4d6b55" stroke-width="1"/><rect x="276.79" y="184.9" width="3.2" height="1.6" fill="#00f000" stroke="#2b6b2b" stroke-width="0.8"/><line x1="283.83" y1="184.5" x2="283.83" y2="190" stroke="#4d6b55" stroke-width="1"/><rect x="282.23" y="185.6" width="3.2" height="3.6" fill="#f00000" stroke="#7a1010" stroke-width="0.8"/><line x1="289.28" y1="188.4" x2="289.28" y2="212.7" stroke="#4d6b55" stroke-width="1"/><rect x="287.68" y="189.2" width="3.2" height="19.1" fill="#f00000" stroke="#7a1010" stroke-width="0.8"/><line x1="294.72" y1="204" x2="294.72" y2="215.8" stroke="#4d6b55" stroke-width="1"/><rect x="293.12" y="208.3" width="3.2" height="4.4" fill="#f00000" stroke="#7a1010" stroke-width="0.8"/><line x1="300.16" y1="201" x2="300.16" y2="215" stroke="#4d6b55" stroke-width="1"/><rect x="298.56" y="202.5" width="3.2" height="10.2" fill="#00f000" stroke="#2b6b2b" stroke-width="0.8"/><line x1="305.61" y1="201" x2="305.61" y2="236" stroke="#4d6b55" stroke-width="1"/><rect x="304.01" y="202.5" width="3.2" height="32" fill="#f00000" stroke="#7a1010" stroke-width="0.8"/><line x1="311.05" y1="225" x2="311.05" y2="236" stroke="#4d6b55" stroke-width="1"/><rect x="309.45" y="230.3" width="3.2" height="4.2" fill="#00f000" stroke="#2b6b2b" stroke-width="0.8"/><line x1="316.49" y1="228.3" x2="316.49" y2="232.2" stroke="#4d6b55" stroke-width="1"/><rect x="314.89" y="229" width="3.2" height="1.6" fill="#f00000" stroke="#7a1010" stroke-width="0.8"/><line x1="321.93" y1="210.3" x2="321.93" y2="232.2" stroke="#4d6b55" stroke-width="1"/><rect x="320.33" y="212.7" width="3.2" height="17.6" fill="#00f000" stroke="#2b6b2b" stroke-width="0.8"/><line x1="327.38" y1="194.7" x2="327.38" y2="214.2" stroke="#4d6b55" stroke-width="1"/><rect x="325.78" y="195.5" width="3.2" height="17.2" fill="#00f000" stroke="#2b6b2b" stroke-width="0.8"/><line x1="332.82" y1="192.3" x2="332.82" y2="201.7" stroke="#4d6b55" stroke-width="1"/><rect x="331.22" y="195.5" width="3.2" height="2.6" fill="#f00000" stroke="#7a1010" stroke-width="0.8"/><line x1="338.26" y1="163" x2="338.26" y2="199" stroke="#4d6b55" stroke-width="1"/><rect x="336.66" y="164.2" width="3.2" height="33.9" fill="#00f000" stroke="#2b6b2b" stroke-width="0.8"/><line x1="343.71" y1="146.9" x2="343.71" y2="165.6" stroke="#4d6b55" stroke-width="1"/><rect x="342.11" y="150" width="3.2" height="14.4" fill="#00f000" stroke="#2b6b2b" stroke-width="0.8"/><line x1="349.15" y1="125.8" x2="349.15" y2="159.4" stroke="#4d6b55" stroke-width="1"/><rect x="347.55" y="138.3" width="3.2" height="11.7" fill="#00f000" stroke="#2b6b2b" stroke-width="0.8"/><line x1="354.59" y1="133.6" x2="354.59" y2="143" stroke="#4d6b55" stroke-width="1"/><rect x="352.99" y="136.7" width="3.2" height="1.6" fill="#00f000" stroke="#2b6b2b" stroke-width="0.8"/><line x1="360.04" y1="113.3" x2="360.04" y2="138.3" stroke="#4d6b55" stroke-width="1"/><rect x="358.44" y="129.2" width="3.2" height="8.3" fill="#00f000" stroke="#2b6b2b" stroke-width="0.8"/><line x1="365.48" y1="109.4" x2="365.48" y2="131.25" stroke="#4d6b55" stroke-width="1"/><rect x="363.88" y="120.3" width="3.2" height="8.9" fill="#00f000" stroke="#2b6b2b" stroke-width="0.8"/><line x1="370.92" y1="117.2" x2="370.92" y2="149.2" stroke="#4d6b55" stroke-width="1"/><rect x="369.32" y="120.3" width="3.2" height="24.2" fill="#f00000" stroke="#7a1010" stroke-width="0.8"/><line x1="376.36" y1="124.2" x2="376.36" y2="145.3" stroke="#4d6b55" stroke-width="1"/><rect x="374.76" y="130.5" width="3.2" height="14" fill="#00f000" stroke="#2b6b2b" stroke-width="0.8"/><line x1="381.81" y1="127.3" x2="381.81" y2="155.5" stroke="#4d6b55" stroke-width="1"/><rect x="380.21" y="130.5" width="3.2" height="11.4" fill="#f00000" stroke="#7a1010" stroke-width="0.8"/><line x1="387.25" y1="136" x2="387.25" y2="270.6" stroke="#4d6b55" stroke-width="1"/><rect x="385.65" y="141.9" width="3.2" height="64.7" fill="#f00000" stroke="#7a1010" stroke-width="0.8"/><line x1="392.69" y1="202.7" x2="392.69" y2="229.2" stroke="#4d6b55" stroke-width="1"/><rect x="391.09" y="206.6" width="3.2" height="15.9" fill="#f00000" stroke="#7a1010" stroke-width="0.8"/><line x1="398.14" y1="187" x2="398.14" y2="229.2" stroke="#4d6b55" stroke-width="1"/><rect x="396.54" y="191.25" width="3.2" height="31.25" fill="#00f000" stroke="#2b6b2b" stroke-width="0.8"/><line x1="403.58" y1="184.7" x2="403.58" y2="198.75" stroke="#4d6b55" stroke-width="1"/><rect x="401.98" y="189.35" width="3.2" height="1.6" fill="#00f000" stroke="#2b6b2b" stroke-width="0.8"/><line x1="409.02" y1="188.6" x2="409.02" y2="226" stroke="#4d6b55" stroke-width="1"/><rect x="407.42" y="189.4" width="3.2" height="13.7" fill="#f00000" stroke="#7a1010" stroke-width="0.8"/><line x1="414.47" y1="200.3" x2="414.47" y2="224.5" stroke="#4d6b55" stroke-width="1"/><rect x="412.87" y="205.8" width="3.2" height="16.1" fill="#f00000" stroke="#7a1010" stroke-width="0.8"/><line x1="419.91" y1="212" x2="419.91" y2="244.8" stroke="#4d6b55" stroke-width="1"/><rect x="418.31" y="221.9" width="3.2" height="17.9" fill="#f00000" stroke="#7a1010" stroke-width="0.8"/><line x1="425.35" y1="232.3" x2="425.35" y2="272.2" stroke="#4d6b55" stroke-width="1"/><rect x="423.75" y="240.2" width="3.2" height="12.5" fill="#f00000" stroke="#7a1010" stroke-width="0.8"/><line x1="430.79" y1="245.3" x2="430.79" y2="253.4" stroke="#4d6b55" stroke-width="1"/><rect x="429.19" y="247.5" width="3.2" height="5.2" fill="#00f000" stroke="#2b6b2b" stroke-width="0.8"/><line x1="436.24" y1="230.8" x2="436.24" y2="252.7" stroke="#4d6b55" stroke-width="1"/><rect x="434.64" y="237.5" width="3.2" height="10" fill="#00f000" stroke="#2b6b2b" stroke-width="0.8"/><line x1="441.68" y1="213.6" x2="441.68" y2="244.8" stroke="#4d6b55" stroke-width="1"/><rect x="440.08" y="223.75" width="3.2" height="13.75" fill="#00f000" stroke="#2b6b2b" stroke-width="0.8"/><line x1="447.12" y1="199.5" x2="447.12" y2="244.8" stroke="#4d6b55" stroke-width="1"/><rect x="445.52" y="223.75" width="3.2" height="15.25" fill="#f00000" stroke="#7a1010" stroke-width="0.8"/><line x1="452.57" y1="233.3" x2="452.57" y2="249.7" stroke="#4d6b55" stroke-width="1"/><rect x="450.97" y="239" width="3.2" height="5.2" fill="#f00000" stroke="#7a1010" stroke-width="0.8"/><line x1="458.01" y1="218.4" x2="458.01" y2="245" stroke="#4d6b55" stroke-width="1"/><rect x="456.41" y="226.25" width="3.2" height="17.95" fill="#00f000" stroke="#2b6b2b" stroke-width="0.8"/><line x1="463.45" y1="213.75" x2="463.45" y2="227.8" stroke="#4d6b55" stroke-width="1"/><rect x="461.85" y="220.3" width="3.2" height="5.95" fill="#00f000" stroke="#2b6b2b" stroke-width="0.8"/><line x1="468.9" y1="213.75" x2="468.9" y2="221.5" stroke="#4d6b55" stroke-width="1"/><rect x="467.3" y="215.3" width="3.2" height="5" fill="#00f000" stroke="#2b6b2b" stroke-width="0.8"/><line x1="474.34" y1="189.5" x2="474.34" y2="216.9" stroke="#4d6b55" stroke-width="1"/><rect x="472.74" y="193.4" width="3.2" height="21.9" fill="#00f000" stroke="#2b6b2b" stroke-width="0.8"/><line x1="479.78" y1="180.2" x2="479.78" y2="198.9" stroke="#4d6b55" stroke-width="1"/><rect x="478.18" y="193.4" width="3.2" height="3.9" fill="#f00000" stroke="#7a1010" stroke-width="0.8"/><line x1="485.22" y1="182.5" x2="485.22" y2="207.5" stroke="#4d6b55" stroke-width="1"/><rect x="483.62" y="197.3" width="3.2" height="9.4" fill="#f00000" stroke="#7a1010" stroke-width="0.8"/><line x1="490.67" y1="200.5" x2="490.67" y2="230.2" stroke="#4d6b55" stroke-width="1"/><rect x="489.07" y="206.25" width="3.2" height="21.25" fill="#f00000" stroke="#7a1010" stroke-width="0.8"/><line x1="496.11" y1="221.6" x2="496.11" y2="248.9" stroke="#4d6b55" stroke-width="1"/><rect x="494.51" y="227.5" width="3.2" height="11.7" fill="#f00000" stroke="#7a1010" stroke-width="0.8"/><line x1="501.55" y1="219.2" x2="501.55" y2="239.5" stroke="#4d6b55" stroke-width="1"/><rect x="499.95" y="230.2" width="3.2" height="9" fill="#00f000" stroke="#2b6b2b" stroke-width="0.8"/><line x1="507" y1="223.1" x2="507" y2="231.25" stroke="#4d6b55" stroke-width="1"/><rect x="505.4" y="226.25" width="3.2" height="3.95" fill="#00f000" stroke="#2b6b2b" stroke-width="0.8"/><line x1="512.44" y1="217.7" x2="512.44" y2="230.2" stroke="#4d6b55" stroke-width="1"/><rect x="510.84" y="223.1" width="3.2" height="3.15" fill="#00f000" stroke="#2b6b2b" stroke-width="0.8"/><line x1="517.88" y1="220.8" x2="517.88" y2="260.6" stroke="#4d6b55" stroke-width="1"/><rect x="516.28" y="223.1" width="3.2" height="25.4" fill="#f00000" stroke="#7a1010" stroke-width="0.8"/><line x1="523.33" y1="248" x2="523.33" y2="306.7" stroke="#4d6b55" stroke-width="1"/><rect x="521.73" y="252" width="3.2" height="36.75" fill="#f00000" stroke="#7a1010" stroke-width="0.8"/><line x1="528.77" y1="267" x2="528.77" y2="306.7" stroke="#4d6b55" stroke-width="1"/><rect x="527.17" y="272.3" width="3.2" height="16.45" fill="#00f000" stroke="#2b6b2b" stroke-width="0.8"/><line x1="534.21" y1="270" x2="534.21" y2="296.6" stroke="#4d6b55" stroke-width="1"/><rect x="532.61" y="271.6" width="3.2" height="18.4" fill="#f00000" stroke="#7a1010" stroke-width="0.8"/><line x1="539.65" y1="270" x2="539.65" y2="304.4" stroke="#4d6b55" stroke-width="1"/><rect x="538.05" y="275.5" width="3.2" height="14.5" fill="#00f000" stroke="#2b6b2b" stroke-width="0.8"/><line x1="545.1" y1="273" x2="545.1" y2="288" stroke="#4d6b55" stroke-width="1"/><rect x="543.5" y="275.5" width="3.2" height="7.8" fill="#f00000" stroke="#7a1010" stroke-width="0.8"/><line x1="550.54" y1="260.6" x2="550.54" y2="288" stroke="#4d6b55" stroke-width="1"/><rect x="548.94" y="265.3" width="3.2" height="16.9" fill="#00f000" stroke="#2b6b2b" stroke-width="0.8"/><line x1="555.98" y1="252.8" x2="555.98" y2="267.7" stroke="#4d6b55" stroke-width="1"/><rect x="554.38" y="256.25" width="3.2" height="9.05" fill="#00f000" stroke="#2b6b2b" stroke-width="0.8"/><line x1="561.43" y1="245" x2="561.43" y2="281" stroke="#4d6b55" stroke-width="1"/><rect x="559.83" y="256.25" width="3.2" height="21.75" fill="#f00000" stroke="#7a1010" stroke-width="0.8"/><line x1="566.87" y1="260.6" x2="566.87" y2="292.7" stroke="#4d6b55" stroke-width="1"/><rect x="565.27" y="278" width="3.2" height="10.3" fill="#f00000" stroke="#7a1010" stroke-width="0.8"/><line x1="572.31" y1="270.8" x2="572.31" y2="313.6" stroke="#4d6b55" stroke-width="1"/><rect x="570.71" y="288.3" width="3.2" height="12.95" fill="#f00000" stroke="#7a1010" stroke-width="0.8"/><line x1="577.76" y1="300" x2="577.76" y2="341.8" stroke="#4d6b55" stroke-width="1"/><rect x="576.16" y="301.8" width="3.2" height="38" fill="#f00000" stroke="#7a1010" stroke-width="0.8"/><line x1="583.2" y1="323.5" x2="583.2" y2="340.8" stroke="#4d6b55" stroke-width="1"/><rect x="581.6" y="331.6" width="3.2" height="8.2" fill="#00f000" stroke="#2b6b2b" stroke-width="0.8"/><line x1="588.64" y1="324.5" x2="588.64" y2="350" stroke="#4d6b55" stroke-width="1"/><rect x="587.04" y="331.6" width="3.2" height="9.6" fill="#f00000" stroke="#7a1010" stroke-width="0.8"/><line x1="594.08" y1="328.6" x2="594.08" y2="362.1" stroke="#4d6b55" stroke-width="1"/><rect x="592.48" y="341.8" width="3.2" height="15.2" fill="#f00000" stroke="#7a1010" stroke-width="0.8"/><line x1="599.53" y1="344.8" x2="599.53" y2="376.3" stroke="#4d6b55" stroke-width="1"/><rect x="597.93" y="350.5" width="3.2" height="6.5" fill="#00f000" stroke="#2b6b2b" stroke-width="0.8"/><line x1="604.97" y1="350" x2="604.97" y2="381.4" stroke="#4d6b55" stroke-width="1"/><rect x="603.37" y="350.5" width="3.2" height="11" fill="#f00000" stroke="#7a1010" stroke-width="0.8"/><line x1="610.41" y1="350" x2="610.41" y2="400.7" stroke="#4d6b55" stroke-width="1"/><rect x="608.81" y="361.5" width="3.2" height="35.75" fill="#f00000" stroke="#7a1010" stroke-width="0.8"/><line x1="615.86" y1="390.4" x2="615.86" y2="440.2" stroke="#4d6b55" stroke-width="1"/><rect x="614.26" y="397.25" width="3.2" height="10.65" fill="#f00000" stroke="#7a1010" stroke-width="0.8"/><line x1="621.3" y1="405" x2="621.3" y2="418.8" stroke="#4d6b55" stroke-width="1"/><rect x="619.7" y="408.2" width="3.2" height="2.4" fill="#f00000" stroke="#7a1010" stroke-width="0.8"/><line x1="626.74" y1="386.8" x2="626.74" y2="411.5" stroke="#4d6b55" stroke-width="1"/><rect x="625.14" y="396.2" width="3.2" height="14.4" fill="#00f000" stroke="#2b6b2b" stroke-width="0.8"/><line x1="632.19" y1="377.75" x2="632.19" y2="405.8" stroke="#4d6b55" stroke-width="1"/><rect x="630.59" y="385.3" width="3.2" height="10.2" fill="#00f000" stroke="#2b6b2b" stroke-width="0.8"/><line x1="637.63" y1="383.3" x2="637.63" y2="400" stroke="#4d6b55" stroke-width="1"/><rect x="636.03" y="385.3" width="3.2" height="6.2" fill="#f00000" stroke="#7a1010" stroke-width="0.8"/><line x1="643.07" y1="367.8" x2="643.07" y2="397.8" stroke="#4d6b55" stroke-width="1"/><rect x="641.47" y="368.8" width="3.2" height="22.8" fill="#00f000" stroke="#2b6b2b" stroke-width="0.8"/><line x1="648.51" y1="358.7" x2="648.51" y2="370.2" stroke="#4d6b55" stroke-width="1"/><rect x="646.91" y="362.7" width="3.2" height="6.5" fill="#00f000" stroke="#2b6b2b" stroke-width="0.8"/><line x1="653.96" y1="351" x2="653.96" y2="369.2" stroke="#4d6b55" stroke-width="1"/><rect x="652.36" y="362.3" width="3.2" height="4.5" fill="#f00000" stroke="#7a1010" stroke-width="0.8"/><line x1="659.4" y1="365" x2="659.4" y2="369" stroke="#4d6b55" stroke-width="1"/><rect x="657.8" y="365.9" width="3.2" height="1.6" fill="#f00000" stroke="#7a1010" stroke-width="0.8"/><line x1="664.84" y1="358" x2="664.84" y2="370.8" stroke="#4d6b55" stroke-width="1"/><rect x="663.24" y="366.8" width="3.2" height="3" fill="#f00000" stroke="#7a1010" stroke-width="0.8"/><line x1="670.29" y1="369.2" x2="670.29" y2="416.5" stroke="#4d6b55" stroke-width="1"/><rect x="668.69" y="369.8" width="3.2" height="30.2" fill="#f00000" stroke="#7a1010" stroke-width="0.8"/><line x1="675.73" y1="357" x2="675.73" y2="400.7" stroke="#4d6b55" stroke-width="1"/><rect x="674.13" y="363.5" width="3.2" height="36.5" fill="#00f000" stroke="#2b6b2b" stroke-width="0.8"/><line x1="681.17" y1="341.8" x2="681.17" y2="364.1" stroke="#4d6b55" stroke-width="1"/><rect x="679.57" y="348" width="3.2" height="15.2" fill="#00f000" stroke="#2b6b2b" stroke-width="0.8"/><line x1="686.62" y1="342.8" x2="686.62" y2="377.3" stroke="#4d6b55" stroke-width="1"/><rect x="685.02" y="348" width="3.2" height="9" fill="#f00000" stroke="#7a1010" stroke-width="0.8"/><line x1="692.06" y1="352.8" x2="692.06" y2="384" stroke="#4d6b55" stroke-width="1"/><rect x="690.46" y="357.2" width="3.2" height="19.8" fill="#f00000" stroke="#7a1010" stroke-width="0.8"/><line x1="697.5" y1="371.6" x2="697.5" y2="380" stroke="#4d6b55" stroke-width="1"/><rect x="695.9" y="376.7" width="3.2" height="1.6" fill="#f00000" stroke="#7a1010" stroke-width="0.8"/><line x1="702.94" y1="359.8" x2="702.94" y2="388" stroke="#4d6b55" stroke-width="1"/><rect x="701.34" y="370.3" width="3.2" height="7.5" fill="#00f000" stroke="#2b6b2b" stroke-width="0.8"/><line x1="708.39" y1="356" x2="708.39" y2="374.7" stroke="#4d6b55" stroke-width="1"/><rect x="706.79" y="367.95" width="3.2" height="1.6" fill="#00f000" stroke="#2b6b2b" stroke-width="0.8"/><line x1="713.83" y1="338.75" x2="713.83" y2="374.7" stroke="#4d6b55" stroke-width="1"/><rect x="712.23" y="353" width="3.2" height="13" fill="#00f000" stroke="#2b6b2b" stroke-width="0.8"/><line x1="719.27" y1="339.5" x2="719.27" y2="359" stroke="#4d6b55" stroke-width="1"/><rect x="717.67" y="353" width="3.2" height="5.3" fill="#f00000" stroke="#7a1010" stroke-width="0.8"/><line x1="724.72" y1="347.3" x2="724.72" y2="377" stroke="#4d6b55" stroke-width="1"/><rect x="723.12" y="354.7" width="3.2" height="3.1" fill="#00f000" stroke="#2b6b2b" stroke-width="0.8"/><line x1="730.16" y1="352.8" x2="730.16" y2="375.5" stroke="#4d6b55" stroke-width="1"/><rect x="728.56" y="354.4" width="3.2" height="16.4" fill="#f00000" stroke="#7a1010" stroke-width="0.8"/><line x1="735.6" y1="367.7" x2="735.6" y2="373.9" stroke="#4d6b55" stroke-width="1"/><rect x="734" y="369.5" width="3.2" height="1.6" fill="#f00000" stroke="#7a1010" stroke-width="0.8"/><line x1="741.05" y1="370" x2="741.05" y2="388.75" stroke="#4d6b55" stroke-width="1"/><rect x="739.45" y="370.8" width="3.2" height="15.6" fill="#f00000" stroke="#7a1010" stroke-width="0.8"/><line x1="746.49" y1="372.3" x2="746.49" y2="406" stroke="#4d6b55" stroke-width="1"/><rect x="744.89" y="386.4" width="3.2" height="12.5" fill="#f00000" stroke="#7a1010" stroke-width="0.8"/><line x1="751.93" y1="386.4" x2="751.93" y2="405.2" stroke="#4d6b55" stroke-width="1"/><rect x="750.33" y="388.3" width="3.2" height="10.1" fill="#00f000" stroke="#2b6b2b" stroke-width="0.8"/><line x1="757.38" y1="370.8" x2="757.38" y2="405.2" stroke="#4d6b55" stroke-width="1"/><rect x="755.77" y="388.3" width="3.2" height="11.4" fill="#f00000" stroke="#7a1010" stroke-width="0.8"/><line x1="762.82" y1="377" x2="762.82" y2="411.4" stroke="#4d6b55" stroke-width="1"/><rect x="761.22" y="399.7" width="3.2" height="5.5" fill="#f00000" stroke="#7a1010" stroke-width="0.8"/><line x1="768.26" y1="377.8" x2="768.26" y2="406.7" stroke="#4d6b55" stroke-width="1"/><rect x="766.66" y="386.9" width="3.2" height="18.7" fill="#00f000" stroke="#2b6b2b" stroke-width="0.8"/><line x1="773.7" y1="383.3" x2="773.7" y2="386.4" stroke="#4d6b55" stroke-width="1"/><rect x="772.1" y="384" width="3.2" height="1.6" fill="#00f000" stroke="#2b6b2b" stroke-width="0.8"/><line x1="779.15" y1="379.4" x2="779.15" y2="388.75" stroke="#4d6b55" stroke-width="1"/><rect x="777.55" y="382.5" width="3.2" height="1.9" fill="#00f000" stroke="#2b6b2b" stroke-width="0.8"/><line x1="784.59" y1="368.4" x2="784.59" y2="384.8" stroke="#4d6b55" stroke-width="1"/><rect x="782.99" y="382.1" width="3.2" height="1.6" fill="#f00000" stroke="#7a1010" stroke-width="0.8"/><line x1="790.03" y1="380.2" x2="790.03" y2="396.6" stroke="#4d6b55" stroke-width="1"/><rect x="788.43" y="383.3" width="3.2" height="7" fill="#f00000" stroke="#7a1010" stroke-width="0.8"/><line x1="795.48" y1="387.3" x2="795.48" y2="398.3" stroke="#4d6b55" stroke-width="1"/><rect x="793.88" y="389.05" width="3.2" height="1.6" fill="#00f000" stroke="#2b6b2b" stroke-width="0.8"/><line x1="800.92" y1="383.4" x2="800.92" y2="393.6" stroke="#4d6b55" stroke-width="1"/><rect x="799.32" y="390" width="3.2" height="2.5" fill="#f00000" stroke="#7a1010" stroke-width="0.8"/><line x1="806.36" y1="376.4" x2="806.36" y2="396.7" stroke="#4d6b55" stroke-width="1"/><rect x="804.76" y="390.8" width="3.2" height="1.6" fill="#00f000" stroke="#2b6b2b" stroke-width="0.8"/><line x1="811.8" y1="388.1" x2="811.8" y2="392" stroke="#4d6b55" stroke-width="1"/><rect x="810.2" y="388.9" width="3.2" height="2.7" fill="#00f000" stroke="#2b6b2b" stroke-width="0.8"/><line x1="817.25" y1="387.3" x2="817.25" y2="389.7" stroke="#4d6b55" stroke-width="1"/><rect x="815.65" y="387.6" width="3.2" height="1.6" fill="#00f000" stroke="#2b6b2b" stroke-width="0.8"/><line x1="822.69" y1="369.4" x2="822.69" y2="394.4" stroke="#4d6b55" stroke-width="1"/><rect x="821.09" y="388.4" width="3.2" height="4.1" fill="#f00000" stroke="#7a1010" stroke-width="0.8"/><line x1="828.13" y1="377.2" x2="828.13" y2="394.4" stroke="#4d6b55" stroke-width="1"/><rect x="826.53" y="383.4" width="3.2" height="9.1" fill="#00f000" stroke="#2b6b2b" stroke-width="0.8"/><line x1="833.58" y1="378.75" x2="833.58" y2="391.25" stroke="#4d6b55" stroke-width="1"/><rect x="831.98" y="383.4" width="3.2" height="5.5" fill="#f00000" stroke="#7a1010" stroke-width="0.8"/><line x1="839.02" y1="380.3" x2="839.02" y2="390.5" stroke="#4d6b55" stroke-width="1"/><rect x="837.42" y="381.6" width="3.2" height="8.1" fill="#00f000" stroke="#2b6b2b" stroke-width="0.8"/><line x1="844.46" y1="366" x2="844.46" y2="382.7" stroke="#4d6b55" stroke-width="1"/><rect x="842.86" y="372.5" width="3.2" height="9.1" fill="#00f000" stroke="#2b6b2b" stroke-width="0.8"/><line x1="849.91" y1="367" x2="849.91" y2="376.4" stroke="#4d6b55" stroke-width="1"/><rect x="848.31" y="368.1" width="3.2" height="4.4" fill="#00f000" stroke="#2b6b2b" stroke-width="0.8"/><line x1="855.35" y1="360" x2="855.35" y2="368.6" stroke="#4d6b55" stroke-width="1"/><rect x="853.75" y="362.8" width="3.2" height="5.3" fill="#00f000" stroke="#2b6b2b" stroke-width="0.8"/><line x1="860.79" y1="337.8" x2="860.79" y2="361.6" stroke="#4d6b55" stroke-width="1"/><rect x="859.19" y="344" width="3.2" height="16.8" fill="#00f000" stroke="#2b6b2b" stroke-width="0.8"/><line x1="866.23" y1="340.5" x2="866.23" y2="359.2" stroke="#4d6b55" stroke-width="1"/><rect x="864.63" y="344.15" width="3.2" height="1.6" fill="#f00000" stroke="#7a1010" stroke-width="0.8"/><line x1="871.68" y1="345" x2="871.68" y2="367.8" stroke="#4d6b55" stroke-width="1"/><rect x="870.08" y="345.6" width="3.2" height="16.7" fill="#f00000" stroke="#7a1010" stroke-width="0.8"/><line x1="877.12" y1="362.3" x2="877.12" y2="376.4" stroke="#4d6b55" stroke-width="1"/><rect x="875.52" y="362.3" width="3.2" height="2.4" fill="#f00000" stroke="#7a1010" stroke-width="0.8"/><line x1="882.56" y1="357.7" x2="882.56" y2="374" stroke="#4d6b55" stroke-width="1"/><rect x="880.96" y="364.7" width="3.2" height="3.1" fill="#f00000" stroke="#7a1010" stroke-width="0.8"/><line x1="888.01" y1="367" x2="888.01" y2="369.4" stroke="#4d6b55" stroke-width="1"/><rect x="886.41" y="367.8" width="3.2" height="1.6" fill="#f00000" stroke="#7a1010" stroke-width="0.8"/><line x1="893.45" y1="363" x2="893.45" y2="370.2" stroke="#4d6b55" stroke-width="1"/><rect x="891.85" y="366.6" width="3.2" height="2.4" fill="#00f000" stroke="#2b6b2b" stroke-width="0.8"/><line x1="898.89" y1="354.5" x2="898.89" y2="371" stroke="#4d6b55" stroke-width="1"/><rect x="897.29" y="363.4" width="3.2" height="3.2" fill="#00f000" stroke="#2b6b2b" stroke-width="0.8"/><line x1="904.34" y1="331.9" x2="904.34" y2="364" stroke="#4d6b55" stroke-width="1"/><rect x="902.74" y="333.3" width="3.2" height="30.1" fill="#00f000" stroke="#2b6b2b" stroke-width="0.8"/><line x1="909.78" y1="314.8" x2="909.78" y2="338.3" stroke="#4d6b55" stroke-width="1"/><rect x="908.18" y="322.7" width="3.2" height="10.6" fill="#00f000" stroke="#2b6b2b" stroke-width="0.8"/><line x1="915.22" y1="315.3" x2="915.22" y2="334.4" stroke="#4d6b55" stroke-width="1"/><rect x="913.62" y="322" width="3.2" height="9.25" fill="#f00000" stroke="#7a1010" stroke-width="0.8"/><line x1="920.66" y1="331" x2="920.66" y2="340.6" stroke="#4d6b55" stroke-width="1"/><rect x="919.06" y="330.9" width="3.2" height="1.6" fill="#f00000" stroke="#7a1010" stroke-width="0.8"/><line x1="926.11" y1="332" x2="926.11" y2="336" stroke="#4d6b55" stroke-width="1"/><rect x="924.51" y="332.5" width="3.2" height="2.7" fill="#f00000" stroke="#7a1010" stroke-width="0.8"/><line x1="931.55" y1="332" x2="931.55" y2="346.9" stroke="#4d6b55" stroke-width="1"/><rect x="929.95" y="335.2" width="3.2" height="10.9" fill="#f00000" stroke="#7a1010" stroke-width="0.8"/><line x1="936.99" y1="348.4" x2="936.99" y2="354.7" stroke="#4d6b55" stroke-width="1"/><rect x="935.39" y="351.6" width="3.2" height="2.4" fill="#f00000" stroke="#7a1010" stroke-width="0.8"/><line x1="942.44" y1="352.3" x2="942.44" y2="387.5" stroke="#4d6b55" stroke-width="1"/><rect x="940.84" y="354" width="3.2" height="30.4" fill="#f00000" stroke="#7a1010" stroke-width="0.8"/><line x1="947.88" y1="368.75" x2="947.88" y2="391.4" stroke="#4d6b55" stroke-width="1"/><rect x="946.28" y="377.3" width="3.2" height="7.1" fill="#00f000" stroke="#2b6b2b" stroke-width="0.8"/><line x1="953.32" y1="369.5" x2="953.32" y2="382" stroke="#4d6b55" stroke-width="1"/><rect x="951.72" y="375.45" width="3.2" height="1.6" fill="#00f000" stroke="#2b6b2b" stroke-width="0.8"/><line x1="958.77" y1="364.8" x2="958.77" y2="381.25" stroke="#4d6b55" stroke-width="1"/><rect x="957.17" y="375" width="3.2" height="1.6" fill="#00f000" stroke="#2b6b2b" stroke-width="0.8"/><line x1="964.21" y1="373.4" x2="964.21" y2="379" stroke="#4d6b55" stroke-width="1"/><rect x="962.61" y="375.5" width="3.2" height="2.6" fill="#f00000" stroke="#7a1010" stroke-width="0.8"/><line x1="969.65" y1="377.3" x2="969.65" y2="399.2" stroke="#4d6b55" stroke-width="1"/><rect x="968.05" y="378.1" width="3.2" height="18.9" fill="#f00000" stroke="#7a1010" stroke-width="0.8"/><line x1="975.09" y1="381" x2="975.09" y2="398.1" stroke="#4d6b55" stroke-width="1"/><rect x="973.49" y="384.2" width="3.2" height="12.8" fill="#00f000" stroke="#2b6b2b" stroke-width="0.8"/><line x1="980.54" y1="375.5" x2="980.54" y2="391.6" stroke="#4d6b55" stroke-width="1"/><rect x="978.94" y="378.1" width="3.2" height="6.1" fill="#00f000" stroke="#2b6b2b" stroke-width="0.8"/><line x1="985.98" y1="368.75" x2="985.98" y2="381.25" stroke="#4d6b55" stroke-width="1"/><rect x="984.38" y="376.25" width="3.2" height="1.75" fill="#00f000" stroke="#2b6b2b" stroke-width="0.8"/><line x1="991.42" y1="377" x2="991.42" y2="420" stroke="#4d6b55" stroke-width="1"/><rect x="989.82" y="378.1" width="3.2" height="33.3" fill="#f00000" stroke="#7a1010" stroke-width="0.8"/><line x1="996.87" y1="410.6" x2="996.87" y2="436.4" stroke="#4d6b55" stroke-width="1"/><rect x="995.27" y="411.4" width="3.2" height="2.6" fill="#f00000" stroke="#7a1010" stroke-width="0.8"/><line x1="1002.31" y1="413.7" x2="1002.31" y2="473.6" stroke="#4d6b55" stroke-width="1"/><rect x="1000.71" y="414.5" width="3.2" height="39.9" fill="#f00000" stroke="#7a1010" stroke-width="0.8"/><line x1="1007.75" y1="449.4" x2="1007.75" y2="476" stroke="#4d6b55" stroke-width="1"/><rect x="1006.15" y="454.4" width="3.2" height="12.5" fill="#f00000" stroke="#7a1010" stroke-width="0.8"/><line x1="1013.2" y1="450" x2="1013.2" y2="483.75" stroke="#4d6b55" stroke-width="1"/><rect x="1011.6" y="454.4" width="3.2" height="13.4" fill="#00f000" stroke="#2b6b2b" stroke-width="0.8"/><line x1="1018.64" y1="451" x2="1018.64" y2="495.5" stroke="#4d6b55" stroke-width="1"/><rect x="1017.04" y="454.4" width="3.2" height="21.6" fill="#f00000" stroke="#7a1010" stroke-width="0.8"/><line x1="1024.08" y1="467.3" x2="1024.08" y2="504.2" stroke="#4d6b55" stroke-width="1"/><rect x="1022.48" y="476.25" width="3.2" height="18.75" fill="#f00000" stroke="#7a1010" stroke-width="0.8"/><line x1="1029.53" y1="494" x2="1029.53" y2="572" stroke="#4d6b55" stroke-width="1"/><rect x="1027.93" y="495" width="3.2" height="74.6" fill="#f00000" stroke="#7a1010" stroke-width="0.8"/><line x1="1034.97" y1="505.3" x2="1034.97" y2="572" stroke="#4d6b55" stroke-width="1"/><rect x="1033.37" y="514.3" width="3.2" height="55.3" fill="#00f000" stroke="#2b6b2b" stroke-width="0.8"/><line x1="1040.41" y1="506" x2="1040.41" y2="536.25" stroke="#4d6b55" stroke-width="1"/><rect x="1038.81" y="514.3" width="3.2" height="8.8" fill="#f00000" stroke="#7a1010" stroke-width="0.8"/><line x1="1045.85" y1="502.5" x2="1045.85" y2="525" stroke="#4d6b55" stroke-width="1"/><rect x="1044.25" y="516.2" width="3.2" height="6.9" fill="#00f000" stroke="#2b6b2b" stroke-width="0.8"/><line x1="1051.3" y1="508" x2="1051.3" y2="528" stroke="#4d6b55" stroke-width="1"/><rect x="1049.7" y="515" width="3.2" height="1.6" fill="#f00000" stroke="#7a1010" stroke-width="0.8"/><line x1="1056.74" y1="513.75" x2="1056.74" y2="532.5" stroke="#4d6b55" stroke-width="1"/><rect x="1055.14" y="517.1" width="3.2" height="9.8" fill="#f00000" stroke="#7a1010" stroke-width="0.8"/><line x1="1062.18" y1="523" x2="1062.18" y2="547.5" stroke="#4d6b55" stroke-width="1"/><rect x="1060.58" y="526.9" width="3.2" height="12.7" fill="#f00000" stroke="#7a1010" stroke-width="0.8"/><line x1="1067.63" y1="529.7" x2="1067.63" y2="552.2" stroke="#4d6b55" stroke-width="1"/><rect x="1066.03" y="539.6" width="3.2" height="6" fill="#f00000" stroke="#7a1010" stroke-width="0.8"/><line x1="1073.07" y1="525.2" x2="1073.07" y2="546.5" stroke="#4d6b55" stroke-width="1"/><rect x="1071.47" y="526" width="3.2" height="19.6" fill="#00f000" stroke="#2b6b2b" stroke-width="0.8"/><line x1="1078.51" y1="513.6" x2="1078.51" y2="527.2" stroke="#4d6b55" stroke-width="1"/><rect x="1076.91" y="519.75" width="3.2" height="6.75" fill="#00f000" stroke="#2b6b2b" stroke-width="0.8"/><line x1="1083.95" y1="511" x2="1083.95" y2="531.5" stroke="#4d6b55" stroke-width="1"/><rect x="1082.36" y="519.75" width="3.2" height="6.75" fill="#f00000" stroke="#7a1010" stroke-width="0.8"/><line x1="1089.4" y1="517.4" x2="1089.4" y2="536.5" stroke="#4d6b55" stroke-width="1"/><rect x="1087.8" y="525.2" width="3.2" height="1.6" fill="#00f000" stroke="#2b6b2b" stroke-width="0.8"/><line x1="1094.84" y1="524" x2="1094.84" y2="541" stroke="#4d6b55" stroke-width="1"/><rect x="1093.24" y="526" width="3.2" height="9.6" fill="#f00000" stroke="#7a1010" stroke-width="0.8"/><line x1="1100.28" y1="534.5" x2="1100.28" y2="545" stroke="#4d6b55" stroke-width="1"/><rect x="1098.68" y="535.9" width="3.2" height="8.2" fill="#f00000" stroke="#7a1010" stroke-width="0.8"/><line x1="1105.73" y1="537.5" x2="1105.73" y2="548.4" stroke="#4d6b55" stroke-width="1"/><rect x="1104.13" y="539.6" width="3.2" height="4.5" fill="#00f000" stroke="#2b6b2b" stroke-width="0.8"/><line x1="1111.17" y1="530.3" x2="1111.17" y2="541" stroke="#4d6b55" stroke-width="1"/><rect x="1109.57" y="532.7" width="3.2" height="6.9" fill="#00f000" stroke="#2b6b2b" stroke-width="0.8"/><line x1="1116.61" y1="527.8" x2="1116.61" y2="535.3" stroke="#4d6b55" stroke-width="1"/><rect x="1115.01" y="532.15" width="3.2" height="1.6" fill="#f00000" stroke="#7a1010" stroke-width="0.8"/><line x1="1122.06" y1="530.6" x2="1122.06" y2="536.25" stroke="#4d6b55" stroke-width="1"/><rect x="1120.46" y="532.9" width="3.2" height="1.85" fill="#f00000" stroke="#7a1010" stroke-width="0.8"/><line x1="1127.5" y1="533.4" x2="1127.5" y2="561.6" stroke="#4d6b55" stroke-width="1"/><rect x="1125.9" y="534.75" width="3.2" height="21.75" fill="#f00000" stroke="#7a1010" stroke-width="0.8"/><line x1="1132.94" y1="555" x2="1132.94" y2="571" stroke="#4d6b55" stroke-width="1"/><rect x="1131.34" y="556.5" width="3.2" height="5.1" fill="#f00000" stroke="#7a1010" stroke-width="0.8"/><line x1="1138.38" y1="519.4" x2="1138.38" y2="561.6" stroke="#4d6b55" stroke-width="1"/><rect x="1136.79" y="532.9" width="3.2" height="28.7" fill="#00f000" stroke="#2b6b2b" stroke-width="0.8"/><line x1="1143.83" y1="526.9" x2="1143.83" y2="542.8" stroke="#4d6b55" stroke-width="1"/><rect x="1142.23" y="532.9" width="3.2" height="3" fill="#f00000" stroke="#7a1010" stroke-width="0.8"/><line x1="1149.27" y1="531.6" x2="1149.27" y2="553.1" stroke="#4d6b55" stroke-width="1"/><rect x="1147.67" y="535.9" width="3.2" height="11.6" fill="#f00000" stroke="#7a1010" stroke-width="0.8"/><line x1="1154.71" y1="534.4" x2="1154.71" y2="568.1" stroke="#4d6b55" stroke-width="1"/><rect x="1153.11" y="540" width="3.2" height="7.5" fill="#00f000" stroke="#2b6b2b" stroke-width="0.8"/><line x1="1160.16" y1="535.3" x2="1160.16" y2="553.1" stroke="#4d6b55" stroke-width="1"/><rect x="1158.56" y="539.6" width="3.2" height="8.8" fill="#f00000" stroke="#7a1010" stroke-width="0.8"/><line x1="1165.6" y1="517.5" x2="1165.6" y2="551.25" stroke="#4d6b55" stroke-width="1"/><rect x="1164" y="526.9" width="3.2" height="21.5" fill="#00f000" stroke="#2b6b2b" stroke-width="0.8"/><line x1="1171.04" y1="524" x2="1171.04" y2="533.4" stroke="#4d6b55" stroke-width="1"/><rect x="1169.44" y="526.9" width="3.2" height="6" fill="#f00000" stroke="#7a1010" stroke-width="0.8"/>
<line x1="7" y1="533.3" x2="1272" y2="533.3" stroke="#5b7fe6" stroke-width="1" stroke-dasharray="1.8,0.9"/>
<line x1="365.2" y1="109.5" x2="1272" y2="109.5" stroke="#9b1c1c" stroke-width="1.2"/>
<line x1="909.7" y1="315.4" x2="1272" y2="315.4" stroke="#9b30ff" stroke-width="1.2"/>
<line x1="615.3" y1="440.2" x2="1272" y2="440.2" stroke="#a07a2a" stroke-width="1.2"/>
<line x1="1023.6" y1="504.3" x2="1272" y2="504.3" stroke="#ff9515" stroke-width="1.2"/>
<line x1="1089.5" y1="517.6" x2="1272" y2="517.6" stroke="#ff5a5a" stroke-width="1.2"/>
<line x1="1149" y1="554.2" x2="1272" y2="554.2" stroke="#ff22ff" stroke-width="1.2"/>
<line x1="1132.6" y1="571.3" x2="1272" y2="571.3" stroke="#7a5a10" stroke-width="1.2"/>
<line x1="365.2" y1="109.5" x2="1192.75" y2="589.5" stroke="#a53030" stroke-width="1.2"/>
<line x1="909.7" y1="315.4" x2="1192.75" y2="538.5" stroke="#a040f0" stroke-width="1.2"/>
<line x1="1034.6" y1="588.9" x2="1192.75" y2="497" stroke="#a53030" stroke-width="1.2"/>
<line x1="1034.6" y1="589.2" x2="1272" y2="589.2" stroke="#9b1c1c" stroke-width="1.2"/>
<line x1="1034.6" y1="570" x2="1034.6" y2="588.9" stroke="#4d6b55" stroke-width="1"/>
<path d="M410.5,110 Q410,121 405,130.5" fill="none" stroke="#e08080" stroke-width="1" stroke-dasharray="1.5,1.5"/>
<path d="M955.5,315.6 Q953,331 945.3,343" fill="none" stroke="#c080f0" stroke-width="1" stroke-dasharray="1.5,1.5"/>
<path d="M1074.4,568 Q1080,576 1081,588" fill="none" stroke="#e08080" stroke-width="1" stroke-dasharray="1.5,1.5"/>
<text x="415.5" y="115.3" font-size="11.5" font-weight="bold" fill="#1f7a68" stroke="#1f7a68" stroke-width="0.2" textLength="27" lengthAdjust="spacingAndGlyphs">-30°</text>
<text x="960.2" y="321.4" font-size="11.5" font-weight="bold" fill="#1f7a68" stroke="#1f7a68" stroke-width="0.2" textLength="26.5" lengthAdjust="spacingAndGlyphs">-38°</text>
<text x="1085.3" y="596" font-size="11.5" font-weight="bold" fill="#1f7a68" stroke="#1f7a68" stroke-width="0.2" textLength="21.5" lengthAdjust="spacingAndGlyphs">30°</text>
<path d="M298.1,272 C301.25,271.7 311.3,270.73 317,270.2 C322.7,269.67 327.03,269.63 332.3,268.8 C337.57,267.97 343.18,266.62 348.6,265.2 C354.02,263.78 359.55,261.72 364.8,260.3 C370.05,258.88 374.55,257.38 380.1,256.7 C385.65,256.02 393.12,256.57 398.1,256.2 C403.08,255.83 404.48,254.93 410,254.5 C415.52,254.07 422.5,254.02 431.25,253.6 C440,253.18 452.08,252.52 462.5,252 C472.92,251.48 483.33,250.83 493.75,250.5 C504.17,250.17 514.62,249.75 525,250 C535.38,250.25 546.62,251.27 556,252 C565.38,252.73 574.43,253.53 581.25,254.4 C588.07,255.27 591.69,256.22 596.9,257.2 C602.11,258.18 607.3,259.08 612.5,260.3 C617.7,261.52 622.89,263.4 628.1,264.5 C633.31,265.6 638.53,266.03 643.75,266.9 C648.97,267.77 654.19,268.67 659.4,269.7 C664.61,270.73 669.8,272.01 675,273.1 C680.2,274.19 685.39,275.32 690.6,276.25 C695.81,277.18 701.03,278.04 706.25,278.7 C711.47,279.36 716.69,279.62 721.9,280.2 C727.11,280.78 732.82,281.35 737.5,282.2 C742.18,283.05 745.83,284.33 750,285.3 C754.17,286.27 755.21,286.65 762.5,288 C769.79,289.35 783.33,291.67 793.75,293.4 C804.17,295.13 814.58,296.83 825,298.4 C835.42,299.97 843.75,301.23 856.25,302.8 C868.75,304.37 883.38,306.53 900,307.8 C916.62,309.07 942.67,309.37 956,310.4 C969.33,311.43 972,312.4 980,314 C988,315.6 996,317.8 1004,320 C1012,322.2 1020,324.6 1028,327.2 C1036,329.8 1044,332.8 1052,335.6 C1060,338.4 1068,341.1 1076,344 C1084,346.9 1091.83,350.25 1100,353 C1108.17,355.75 1117,358.1 1125,360.5 C1133,362.9 1140.17,364.9 1148,367.4 C1155.83,369.9 1168,374.15 1172,375.5" fill="none" stroke="#2c4c18" stroke-width="4" stroke-linejoin="round"/>
<path d="M7,255.6 C11.04,255 24.6,253.38 31.25,252 C37.9,250.62 41.69,248.93 46.9,247.3 C52.11,245.67 57.3,244.02 62.5,242.2 C67.7,240.38 72.89,237.88 78.1,236.4 C83.31,234.92 88.53,234.08 93.75,233.3 C98.97,232.52 104.19,232.35 109.4,231.7 C114.61,231.05 119.8,229.92 125,229.4 C130.2,228.88 135.39,228.73 140.6,228.6 C145.81,228.47 151.03,228.53 156.25,228.6 C161.47,228.67 164.61,229.1 171.9,229 C179.19,228.9 190.11,228.58 200,228 C209.89,227.42 220.83,226.78 231.25,225.5 C241.67,224.22 252.08,221.6 262.5,220.3 C272.92,219 283.33,218.13 293.75,217.7 C304.17,217.27 317.19,217.97 325,217.7 C332.81,217.43 335.39,217.15 340.6,216.1 C345.81,215.05 351.03,212.97 356.25,211.4 C361.47,209.83 367.21,207.93 371.9,206.7 C376.59,205.47 379.72,204.42 384.4,204 C389.08,203.58 392.19,203.62 400,204.2 C407.81,204.78 420.83,206.57 431.25,207.5 C441.67,208.43 452.08,209.42 462.5,209.8 C472.92,210.18 485.93,209.62 493.75,209.8 C501.57,209.98 504.19,210.12 509.4,210.9 C514.61,211.68 518.23,212.85 525,214.5 C531.77,216.15 543.23,219.37 550,220.8 C556.77,222.23 560.39,222.07 565.6,223.1 C570.81,224.13 576.03,225.18 581.25,227 C586.47,228.82 591.69,231.27 596.9,234 C602.11,236.73 607.3,240.4 612.5,243.4 C617.7,246.4 622.89,249.52 628.1,252 C633.31,254.48 638.53,256.34 643.75,258.3 C648.97,260.26 654.19,261.67 659.4,263.75 C664.61,265.83 669.8,268.84 675,270.8 C680.2,272.76 685.39,273.68 690.6,275.5 C695.81,277.32 701.03,280.02 706.25,281.7 C711.47,283.38 716.69,284.17 721.9,285.6 C727.11,287.03 732.82,288.78 737.5,290.3 C742.18,291.82 745.83,293.13 750,294.7 C754.17,296.27 755.21,297.18 762.5,299.7 C769.79,302.22 783.33,306.68 793.75,309.8 C804.17,312.92 814.58,316.05 825,318.4 C835.42,320.75 843.75,322.13 856.25,323.9 C868.75,325.67 883.38,327.45 900,329 C916.62,330.55 942.67,331.7 956,333.2 C969.33,334.7 974.33,336.66 980,338 C985.67,339.34 986,339.83 990,341.25 C994,342.67 999,344.62 1004,346.5 C1009,348.38 1014.83,350.04 1020,352.5 C1025.17,354.96 1028.33,357.29 1035,361.25 C1041.67,365.21 1051.67,371.46 1060,376.25 C1068.33,381.04 1075.83,385.42 1085,390 C1094.17,394.58 1105.83,399.38 1115,403.75 C1124.17,408.12 1130.58,411.96 1140,416.25 C1149.42,420.54 1166.25,427.29 1171.5,429.5" fill="none" stroke="#00ee00" stroke-width="3" stroke-linejoin="round"/>
<path d="M7,206.25 C11.04,205.94 24.6,205.11 31.25,204.4 C37.9,203.69 41.69,203.05 46.9,202 C52.11,200.95 57.3,199.58 62.5,198.1 C67.7,196.62 72.89,194.32 78.1,193.1 C83.31,191.88 88.53,191.13 93.75,190.8 C98.97,190.47 104.19,191.05 109.4,191.1 C114.61,191.15 119.8,190.77 125,191.1 C130.2,191.43 135.39,192.18 140.6,193.1 C145.81,194.02 151.03,195.5 156.25,196.6 C161.47,197.7 164.61,198.47 171.9,199.7 C179.19,200.93 190.11,203.08 200,204 C209.89,204.92 223.43,205.4 231.25,205.2 C239.07,205 241.69,203.52 246.9,202.8 C252.11,202.08 257.3,201.68 262.5,200.9 C267.7,200.12 272.89,198.52 278.1,198.1 C283.31,197.68 288.53,197.88 293.75,198.4 C298.97,198.93 304.19,200.52 309.4,201.25 C314.61,201.98 319.8,202.93 325,202.8 C330.2,202.68 335.39,202.18 340.6,200.5 C345.81,198.82 351.03,195.05 356.25,192.7 C361.47,190.35 367.73,187.97 371.9,186.4 C376.07,184.83 376.57,183.37 381.25,183.3 C385.93,183.23 391.67,184.05 400,186 C408.33,187.95 423.43,192.72 431.25,195 C439.07,197.28 441.69,198.4 446.9,199.7 C452.11,201 457.3,202.28 462.5,202.8 C467.7,203.32 472.89,202.4 478.1,202.8 C483.31,203.2 488.53,204.42 493.75,205.2 C498.97,205.98 504.19,206.07 509.4,207.5 C514.61,208.93 519.8,211.75 525,213.75 C530.2,215.75 536.43,217.96 540.6,219.5 C544.77,221.04 545.83,221.35 550,223 C554.17,224.65 560.39,226.78 565.6,229.4 C570.81,232.03 576.03,235.23 581.25,238.75 C586.47,242.27 591.69,246.07 596.9,250.5 C602.11,254.93 607.3,260.35 612.5,265.3 C617.7,270.25 622.89,276.03 628.1,280.2 C633.31,284.37 638.53,287.32 643.75,290.3 C648.97,293.28 654.19,295.23 659.4,298.1 C664.61,300.97 669.8,305.15 675,307.5 C680.2,309.85 685.39,310.28 690.6,312.2 C695.81,314.12 699.48,316.78 706.25,319 C713.02,321.22 721.88,322.21 731.25,325.5 C740.62,328.79 752.08,334.83 762.5,338.75 C772.92,342.67 783.33,346.12 793.75,349 C804.17,351.88 815.89,354.12 825,356 C834.11,357.88 835.9,359.53 848.4,360.3 C860.9,361.07 886.07,360.78 900,360.6 C913.93,360.42 922.67,359.35 932,359.2 C941.33,359.05 948,359.23 956,359.7 C964,360.17 974.33,361.2 980,362 C985.67,362.8 985,362.33 990,364.5 C995,366.67 1004.17,371.58 1010,375 C1015.83,378.42 1021.25,381.67 1025,385 C1028.75,388.33 1027.92,390.62 1032.5,395 C1037.08,399.38 1045.42,405.42 1052.5,411.25 C1059.58,417.08 1066.67,423.54 1075,430 C1083.33,436.46 1093.33,443.75 1102.5,450 C1111.67,456.25 1122.92,463.54 1130,467.5 C1137.08,471.46 1138.08,470.92 1145,473.75 C1151.92,476.58 1167.08,482.71 1171.5,484.5" fill="none" stroke="#ff00ff" stroke-width="2.2" stroke-linejoin="round"/>
<polyline points="6.24,182 11.68,184.57 17.13,185.72 22.57,186.15 28.01,187.22 33.46,187.51 38.9,186.06 44.34,185.35 49.79,184.86 55.23,182.47 60.67,180.69 66.11,178.11 71.56,173.55 77,172.84 82.44,172.86 87.89,172.81 93.33,172.69 98.77,173.55 104.22,176.64 109.66,178.54 115.1,181.44 120.54,180.98 125.99,181.53 131.43,183.44 136.87,187.55 142.32,190.07 147.76,192.76 153.2,194.21 158.64,198.51 164.09,202.04 169.53,205.64 174.97,208.23 180.42,209.19 185.86,209.68 191.3,210.8 196.75,211.93 202.19,213.25 207.63,213.85 213.07,213.69 218.52,213.95 223.96,212.48 229.4,210.08 234.85,207.6 240.29,205.32 245.73,203.71 251.18,202.24 256.62,199.96 262.06,198.07 267.5,195.93 272.95,195.05 278.39,194.12 283.83,193.65 289.28,195.04 294.72,196.73 300.16,197.28 305.61,200.82 311.05,203.63 316.49,206.14 321.93,206.76 327.38,205.69 332.82,204.97 338.26,201.09 343.71,196.22 349.15,190.7 354.59,185.61 360.04,180.24 365.48,174.53 370.92,171.67 376.36,167.75 381.81,165.29 387.25,169.22 392.69,174.29 398.14,175.91 403.58,177.22 409.02,179.69 414.47,183.71 419.91,189.05 425.35,195.11 430.79,200.1 436.24,203.66 441.68,205.58 447.12,208.76 452.57,212.13 458.01,213.48 463.45,214.13 468.9,214.24 474.34,212.26 479.78,210.83 485.22,210.44 490.67,212.06 496.11,214.65 501.55,216.13 507,217.09 512.44,217.66 517.88,220.6 523.33,227.09 528.77,231.4 534.21,236.98 539.65,240.65 545.1,244.71 550.54,246.67 555.98,247.58 561.43,250.48 566.87,254.08 572.31,258.57 577.76,266.31 583.2,272.53 588.64,279.07 594.08,286.49 599.53,292.59 604.97,299.15 610.41,308.49 615.86,317.96 621.3,326.78 626.74,333.39 632.19,338.34 637.63,343.4 643.07,345.82 648.51,347.43 653.96,349.27 659.4,350.98 664.84,352.77 670.29,357.27 675.73,357.86 681.17,356.92 686.62,356.93 692.06,358.84 697.5,360.65 702.94,361.57 708.39,362.23 713.83,361.35 719.27,361.06 724.72,360.45 730.16,361.44 735.6,362.31 741.05,364.6 746.49,367.87 751.93,369.82 757.38,372.66 762.82,375.76 768.26,376.82 773.7,377.51 779.15,377.98 784.59,378.49 790.03,379.61 795.48,380.57 800.92,381.71 806.36,382.63 811.8,383.23 817.25,383.7 822.69,384.54 828.13,384.43 833.58,384.86 839.02,384.55 844.46,383.4 849.91,381.94 855.35,380.12 860.79,376.68 866.23,373.71 871.68,372.62 877.12,371.87 882.56,371.48 888.01,371.23 893.45,370.79 898.89,370.08 904.34,366.58 909.78,362.4 915.22,359.43 920.66,356.82 926.11,354.76 931.55,353.94 936.99,353.94 942.44,356.84 947.88,358.79 953.32,360.43 958.77,361.88 964.21,363.42 969.65,366.62 975.09,368.29 980.54,369.23 985.98,369.9 991.42,373.85 996.87,377.67 1002.31,384.98 1007.75,392.78 1013.2,398.65 1018.64,406.02 1024.08,414.49 1029.53,429.26 1034.97,437.36 1040.41,445.53 1045.85,452.26 1051.3,458.39 1056.74,464.91 1062.18,472.02 1067.63,479.03 1073.07,483.5 1078.51,486.96 1083.95,490.72 1089.4,494.05 1094.84,498.01 1100.28,502.4 1105.73,505.94 1111.17,508.49 1116.61,510.83 1122.06,513.1 1127.5,517.24 1132.94,521.46 1138.38,522.55 1143.83,523.82 1149.27,526.08 1154.71,527.4 1160.16,529.4 1165.6,529.16 1171.04,529.52" fill="none" stroke="#b5473f" stroke-width="1.3" stroke-linejoin="round"/>
<polyline points="6.24,179.4 11.68,185.32 17.13,187.58 22.57,188.12 28.01,189.96 33.46,190.03 38.9,186.48 44.34,184.9 49.79,183.96 55.23,179.13 60.67,176.05 66.11,171.56 71.56,163.29 77,163.85 82.44,165.7 87.89,167.02 93.33,167.94 98.77,170.69 104.22,177.75 109.66,181.52 115.1,187.02 120.54,184.93 125.99,185.29 131.43,188.55 136.87,196.16 142.32,199.73 147.76,203.44 153.2,204.35 158.64,211.36 164.09,216.21 169.53,220.93 174.97,223.3 180.42,222.3 185.86,220.72 191.3,220.86 196.75,221.23 202.19,222.14 207.63,221.61 213.07,219.73 218.52,219.06 223.96,214.95 229.4,209.42 234.85,204.34 240.29,200.22 245.73,197.86 251.18,195.92 256.62,192.4 262.06,189.96 267.5,187.09 272.95,186.99 278.39,186.65 283.83,187.16 289.28,191.39 294.72,195.65 300.16,197.02 305.61,204.52 311.05,209.67 316.49,213.74 321.93,213.53 327.38,209.92 332.82,207.56 338.26,198.89 343.71,189.11 349.15,178.95 354.59,170.6 360.04,162.32 365.48,153.92 370.92,152.03 376.36,147.73 381.81,146.56 387.25,158.57 392.69,171.35 398.14,175.33 403.58,178.21 409.02,183.19 414.47,190.93 419.91,200.7 425.35,211.1 430.79,218.38 436.24,222.21 441.68,222.51 447.12,225.81 452.57,229.49 458.01,228.84 463.45,227.13 468.9,224.77 474.34,218.49 479.78,214.25 485.22,212.74 490.67,215.69 496.11,220.4 501.55,222.36 507,223.14 512.44,223.13 517.88,228.2 523.33,240.31 528.77,246.71 534.21,255.37 539.65,259.39 545.1,264.18 550.54,264.4 555.98,262.77 561.43,265.82 566.87,270.31 572.31,276.5 577.76,289.16 583.2,297.65 588.64,306.36 594.08,316.49 599.53,323.29 604.97,330.93 610.41,344.2 615.86,356.94 621.3,367.67 626.74,373.38 632.19,375.76 637.63,378.91 643.07,376.89 648.51,374.05 653.96,372.6 659.4,371.52 664.84,371.18 670.29,376.94 675.73,374.25 681.17,369 686.62,366.6 692.06,368.68 697.5,370.5 702.94,370.46 708.39,370.07 713.83,366.66 719.27,364.99 724.72,362.93 730.16,364.5 735.6,365.72 741.05,369.86 746.49,375.67 751.93,378.19 757.38,382.49 762.82,387.04 768.26,387.01 773.7,386.41 779.15,385.63 784.59,385.16 790.03,386.19 795.48,386.89 800.92,388.01 806.36,388.69 811.8,388.73 817.25,388.63 822.69,389.4 828.13,388.2 833.58,388.34 839.02,386.99 844.46,384.09 849.91,380.9 855.35,377.28 860.79,370.62 866.23,365.6 871.68,364.94 877.12,364.89 882.56,365.47 888.01,366.14 893.45,366.23 898.89,365.66 904.34,359.19 909.78,351.89 915.22,347.76 920.66,344.61 926.11,342.73 931.55,343.4 936.99,345.52 942.44,353.3 947.88,358.1 953.32,361.68 958.77,364.46 964.21,367.19 969.65,373.15 975.09,375.36 980.54,375.91 985.98,375.98 991.42,383.06 996.87,389.25 1002.31,402.28 1007.75,415.2 1013.2,423.04 1018.64,433.63 1024.08,445.91 1029.53,470.65 1034.97,479.38 1040.41,488.12 1045.85,493.74 1051.3,498.31 1056.74,504.03 1062.18,511.14 1067.63,518.03 1073.07,519.63 1078.51,519.65 1083.95,521.02 1089.4,521.96 1094.84,524.69 1100.28,528.57 1105.73,530.77 1111.17,531.16 1116.61,531.53 1122.06,532.17 1127.5,537.04 1132.94,541.95 1138.38,540.14 1143.83,539.29 1149.27,540.93 1154.71,540.75 1160.16,542.28 1165.6,539.2 1171.04,537.94" fill="none" stroke="#3a44f0" stroke-width="1.3" stroke-linejoin="round"/>
<line x1="1193.5" y1="52" x2="1193.5" y2="618" stroke="#ff22ff" stroke-width="1.3"/>
<circle cx="1144.6" cy="511.4" r="7.2" fill="#118ef0"/><text x="1144.7" y="514.6" font-size="9" font-weight="bold" fill="#fff" text-anchor="middle">P</text>
</g>
<text x="16.5" y="70.75" font-size="12" fill="#3a3a3a">Volume (20)</text>
<text x="16.5" y="82.9" font-size="12" fill="#3a3a3a">EMA (9, close, 0)</text>
<text x="16.5" y="95.2" font-size="12" fill="#3a3a3a">EMA (20, close, 0)</text>
<text x="16.5" y="107.6" font-size="12" fill="#3a3a3a">EMA (50, close, 0)</text>
<text x="16.5" y="120" font-size="12" fill="#3a3a3a">EMA (100, close, 0)</text>
<text x="16.5" y="132.4" font-size="12" fill="#3a3a3a">EMA (200, close, 0)</text>
<line x1="1272.5" y1="52" x2="1272.5" y2="618.5" stroke="#555" stroke-width="1"/>
<line x1="7" y1="618.5" x2="1272.5" y2="618.5" stroke="#555" stroke-width="1"/>
<line x1="1272" y1="68" x2="1276" y2="68" stroke="#555" stroke-width="1"/>
<text x="1278.6" y="71.6" font-size="10" fill="#666" stroke="#666" stroke-width="0.15">132000.0</text>
<line x1="1272" y1="97.04" x2="1276" y2="97.04" stroke="#555" stroke-width="1"/>
<text x="1278.6" y="100.64" font-size="10" fill="#666" stroke="#666" stroke-width="0.15">128000.0</text>
<line x1="1272" y1="126.07" x2="1276" y2="126.07" stroke="#555" stroke-width="1"/>
<text x="1278.6" y="129.67" font-size="10" fill="#666" stroke="#666" stroke-width="0.15">124000.0</text>
<line x1="1272" y1="155.11" x2="1276" y2="155.11" stroke="#555" stroke-width="1"/>
<text x="1278.6" y="158.71" font-size="10" fill="#666" stroke="#666" stroke-width="0.15">120000.0</text>
<line x1="1272" y1="184.14" x2="1276" y2="184.14" stroke="#555" stroke-width="1"/>
<text x="1278.6" y="187.74" font-size="10" fill="#666" stroke="#666" stroke-width="0.15">116000.0</text>
<line x1="1272" y1="213.18" x2="1276" y2="213.18" stroke="#555" stroke-width="1"/>
<text x="1278.6" y="216.78" font-size="10" fill="#666" stroke="#666" stroke-width="0.15">112000.0</text>
<line x1="1272" y1="242.22" x2="1276" y2="242.22" stroke="#555" stroke-width="1"/>
<text x="1278.6" y="245.82" font-size="10" fill="#666" stroke="#666" stroke-width="0.15">108000.0</text>
<line x1="1272" y1="271.25" x2="1276" y2="271.25" stroke="#555" stroke-width="1"/>
<text x="1278.6" y="274.85" font-size="10" fill="#666" stroke="#666" stroke-width="0.15">104000.0</text>
<line x1="1272" y1="300.29" x2="1276" y2="300.29" stroke="#555" stroke-width="1"/>
<text x="1278.6" y="303.89" font-size="10" fill="#666" stroke="#666" stroke-width="0.15">100000.0</text>
<line x1="1272" y1="329.32" x2="1276" y2="329.32" stroke="#555" stroke-width="1"/>
<text x="1278.6" y="332.92" font-size="10" fill="#666" stroke="#666" stroke-width="0.15">96000.0</text>
<line x1="1272" y1="358.36" x2="1276" y2="358.36" stroke="#555" stroke-width="1"/>
<text x="1278.6" y="361.96" font-size="10" fill="#666" stroke="#666" stroke-width="0.15">92000.0</text>
<line x1="1272" y1="387.4" x2="1276" y2="387.4" stroke="#555" stroke-width="1"/>
<text x="1278.6" y="391" font-size="10" fill="#666" stroke="#666" stroke-width="0.15">88000.0</text>
<line x1="1272" y1="416.43" x2="1276" y2="416.43" stroke="#555" stroke-width="1"/>
<text x="1278.6" y="420.03" font-size="10" fill="#666" stroke="#666" stroke-width="0.15">84000.0</text>
<line x1="1272" y1="474.5" x2="1276" y2="474.5" stroke="#555" stroke-width="1"/>
<text x="1278.6" y="478.1" font-size="10" fill="#666" stroke="#666" stroke-width="0.15">76000.0</text>
<rect x="1272" y="102.5" width="52" height="14.3" fill="#9b0a0a"/>
<line x1="1272" y1="109.6" x2="1276" y2="109.6" stroke="#fff" stroke-width="1"/>
<text x="1278.6" y="113.6" font-size="10" font-weight="bold" fill="#fff">126203.2</text>
<rect x="1272" y="308.5" width="46" height="14.3" fill="#9b10f0"/>
<line x1="1272" y1="315.6" x2="1276" y2="315.6" stroke="#fff" stroke-width="1"/>
<text x="1278.6" y="319.6" font-size="10" font-weight="bold" fill="#fff">97856.6</text>
<rect x="1272" y="369.5" width="46" height="14.3" fill="#2c4c18"/>
<line x1="1272" y1="376.6" x2="1276" y2="376.6" stroke="#fff" stroke-width="1"/>
<text x="1278.6" y="380.6" font-size="10" font-weight="bold" fill="#fff">89673.9</text>
<rect x="1272" y="423" width="46" height="14.3" fill="#00f000"/>
<line x1="1272" y1="430.1" x2="1276" y2="430.1" stroke="#111" stroke-width="1"/>
<text x="1278.6" y="434.1" font-size="10" font-weight="bold" fill="#111">82132.4</text>
<rect x="1272" y="437.5" width="46" height="14.3" fill="#7a5a10"/>
<line x1="1272" y1="444.6" x2="1276" y2="444.6" stroke="#fff" stroke-width="1"/>
<text x="1278.6" y="448.6" font-size="10" font-weight="bold" fill="#fff">80660.5</text>
<rect x="1272" y="478" width="46" height="14.3" fill="#ff22ff"/>
<line x1="1272" y1="485.1" x2="1276" y2="485.1" stroke="#fff" stroke-width="1"/>
<text x="1278.6" y="489.1" font-size="10" font-weight="bold" fill="#fff">74497.3</text>
<rect x="1272" y="497.5" width="46" height="14.3" fill="#ff9a00"/>
<line x1="1272" y1="504.6" x2="1276" y2="504.6" stroke="#fff" stroke-width="1"/>
<text x="1278.6" y="508.6" font-size="10" font-weight="bold" fill="#fff">71939.2</text>
<rect x="1272" y="512" width="46" height="14.3" fill="#ff0000"/>
<line x1="1272" y1="519.1" x2="1276" y2="519.1" stroke="#fff" stroke-width="1"/>
<text x="1278.6" y="523.1" font-size="10" font-weight="bold" fill="#fff">70074.0</text>
<rect x="1272" y="526.5" width="46" height="14.3" fill="#8a0000"/>
<line x1="1272" y1="533.6" x2="1276" y2="533.6" stroke="#fff" stroke-width="1"/>
<text x="1278.6" y="537.6" font-size="10" font-weight="bold" fill="#fff">68400.5</text>
<rect x="1272" y="541" width="46" height="14.3" fill="#4a7ae0"/>
<line x1="1272" y1="548.1" x2="1276" y2="548.1" stroke="#fff" stroke-width="1"/>
<text x="1278.6" y="552.1" font-size="10" font-weight="bold" fill="#fff">67887.4</text>
<rect x="1272" y="556" width="46" height="14.3" fill="#0000ff"/>
<line x1="1272" y1="563.1" x2="1276" y2="563.1" stroke="#fff" stroke-width="1"/>
<text x="1278.6" y="567.1" font-size="10" font-weight="bold" fill="#fff">67234.3</text>
<rect x="1272" y="570.5" width="46" height="14.3" fill="#ff22ff"/>
<line x1="1272" y1="577.6" x2="1276" y2="577.6" stroke="#fff" stroke-width="1"/>
<text x="1278.6" y="581.6" font-size="10" font-weight="bold" fill="#fff">64998.0</text>
<rect x="1272" y="584.8" width="53" height="14.3" fill="#ff6a6a"/>
<line x1="1272" y1="591.9" x2="1276" y2="591.9" stroke="#fff" stroke-width="1"/>
<text x="1278.6" y="595.9" font-size="10" font-weight="bold" fill="#fff">100.775K</text>
<rect x="1272" y="599" width="46" height="14.3" fill="#7a5a10"/>
<line x1="1272" y1="606.1" x2="1276" y2="606.1" stroke="#fff" stroke-width="1"/>
<text x="1278.6" y="610.1" font-size="10" font-weight="bold" fill="#fff">62703.2</text>
<rect x="1272" y="613.5" width="46" height="3.5" fill="#000"/>
<line x1="77.5" y1="618" x2="77.5" y2="622" stroke="#777" stroke-width="1.2"/>
<text x="77.5" y="631.8" font-size="10" fill="#6e6e6e" stroke="#6e6e6e" stroke-width="0.3" text-anchor="middle">14</text>
<line x1="176" y1="618" x2="176" y2="622" stroke="#777" stroke-width="1.2"/>
<text x="176" y="631.8" font-size="10" fill="#6e6e6e" stroke="#6e6e6e" stroke-width="0.3" text-anchor="middle">Sep</text>
<line x1="246.5" y1="618" x2="246.5" y2="622" stroke="#777" stroke-width="1.2"/>
<text x="246.5" y="631.8" font-size="10" fill="#6e6e6e" stroke="#6e6e6e" stroke-width="0.3" text-anchor="middle">14</text>
<line x1="338.4" y1="618" x2="338.4" y2="622" stroke="#777" stroke-width="1.2"/>
<text x="338.4" y="631.8" font-size="10" fill="#6e6e6e" stroke="#6e6e6e" stroke-width="0.3" text-anchor="middle">Oct</text>
<line x1="409.6" y1="618" x2="409.6" y2="622" stroke="#777" stroke-width="1.2"/>
<text x="409.6" y="631.8" font-size="10" fill="#6e6e6e" stroke="#6e6e6e" stroke-width="0.3" text-anchor="middle">14</text>
<line x1="507.2" y1="618" x2="507.2" y2="622" stroke="#777" stroke-width="1.2"/>
<text x="507.2" y="631.8" font-size="10" fill="#6e6e6e" stroke="#6e6e6e" stroke-width="0.3" text-anchor="middle">Nov</text>
<line x1="578.7" y1="618" x2="578.7" y2="622" stroke="#777" stroke-width="1.2"/>
<text x="578.7" y="631.8" font-size="10" fill="#6e6e6e" stroke="#6e6e6e" stroke-width="0.3" text-anchor="middle">14</text>
<line x1="670.9" y1="618" x2="670.9" y2="622" stroke="#777" stroke-width="1.2"/>
<text x="670.9" y="631.8" font-size="10" fill="#6e6e6e" stroke="#6e6e6e" stroke-width="0.3" text-anchor="middle">Dec</text>
<line x1="740.6" y1="618" x2="740.6" y2="622" stroke="#777" stroke-width="1.2"/>
<text x="740.6" y="631.8" font-size="10" fill="#6e6e6e" stroke="#6e6e6e" stroke-width="0.3" text-anchor="middle">14</text>
<line x1="839" y1="618" x2="839" y2="622" stroke="#777" stroke-width="1.2"/>
<text x="839" y="631.8" font-size="10" fill="#6e6e6e" stroke="#6e6e6e" stroke-width="0.3" text-anchor="middle">2026</text>
<line x1="909.2" y1="618" x2="909.2" y2="622" stroke="#777" stroke-width="1.2"/>
<text x="909.2" y="631.8" font-size="10" fill="#6e6e6e" stroke="#6e6e6e" stroke-width="0.3" text-anchor="middle">14</text>
<line x1="1008.2" y1="618" x2="1008.2" y2="622" stroke="#777" stroke-width="1.2"/>
<text x="1008.2" y="631.8" font-size="10" fill="#6e6e6e" stroke="#6e6e6e" stroke-width="0.3" text-anchor="middle">Feb</text>
<line x1="1079.2" y1="618" x2="1079.2" y2="622" stroke="#777" stroke-width="1.2"/>
<text x="1079.2" y="631.8" font-size="10" fill="#6e6e6e" stroke="#6e6e6e" stroke-width="0.3" text-anchor="middle">14</text>
<line x1="1160.7" y1="618" x2="1160.7" y2="622" stroke="#777" stroke-width="1.2"/>
<text x="1160.7" y="631.8" font-size="10" fill="#6e6e6e" stroke="#6e6e6e" stroke-width="0.3" text-anchor="middle">Mar</text>
<line x1="1231.4" y1="618" x2="1231.4" y2="622" stroke="#777" stroke-width="1.2"/>
<text x="1231.4" y="631.8" font-size="10" fill="#6e6e6e" stroke="#6e6e6e" stroke-width="0.3" text-anchor="middle">14</text>
<g clip-path="url(#cpx)"><text x="6.5" y="631.8" font-size="10" fill="#6e6e6e" stroke="#6e6e6e" stroke-width="0.3" text-anchor="middle">Aug</text></g>
<rect x="1164.2" y="618.2" width="57.9" height="16.9" fill="#ff00ff"/><line x1="1193.4" y1="618.2" x2="1193.4" y2="621.5" stroke="#ffb0ff" stroke-width="1"/>
<text x="1193.1" y="631.8" font-size="10" font-weight="bold" fill="#fff" text-anchor="middle">2026-03-07</text>
</svg></body></html>
